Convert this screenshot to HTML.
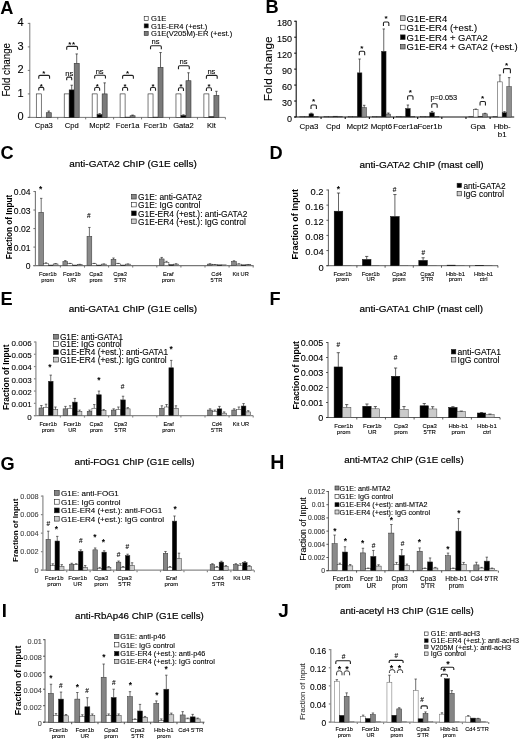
<!DOCTYPE html>
<html><head><meta charset="utf-8"><title>Figure</title>
<style>
html,body{margin:0;padding:0;background:#fff;}
svg{display:block;}
text{font-family:"Liberation Sans", Arial, sans-serif;}
</style></head>
<body>
<svg width="520" height="739" viewBox="0 0 520 739">
<rect x="0" y="0" width="520" height="739" fill="#fff"/>
<text x="0.30" y="13.60" font-size="18.2" font-weight="bold">A</text>
<line x1="29.80" y1="22.90" x2="29.80" y2="117.40" stroke="#555" stroke-width="0.8"/>
<line x1="27.80" y1="117.40" x2="225.40" y2="117.40" stroke="#555" stroke-width="0.8"/>
<line x1="27.80" y1="117.40" x2="29.80" y2="117.40" stroke="#555" stroke-width="0.8"/>
<text x="23.60" y="120.40" font-size="11.0" text-anchor="end" stroke="#000" stroke-width="0.1">0</text>
<line x1="27.80" y1="93.90" x2="29.80" y2="93.90" stroke="#555" stroke-width="0.8"/>
<text x="23.60" y="96.90" font-size="11.0" text-anchor="end" stroke="#000" stroke-width="0.1">1</text>
<line x1="27.80" y1="70.40" x2="29.80" y2="70.40" stroke="#555" stroke-width="0.8"/>
<text x="23.60" y="73.40" font-size="11.0" text-anchor="end" stroke="#000" stroke-width="0.1">2</text>
<line x1="27.80" y1="46.90" x2="29.80" y2="46.90" stroke="#555" stroke-width="0.8"/>
<text x="23.60" y="49.90" font-size="11.0" text-anchor="end" stroke="#000" stroke-width="0.1">3</text>
<line x1="27.80" y1="23.40" x2="29.80" y2="23.40" stroke="#555" stroke-width="0.8"/>
<text x="23.60" y="26.40" font-size="11.0" text-anchor="end" stroke="#000" stroke-width="0.1">4</text>
<line x1="57.74" y1="117.40" x2="57.74" y2="119.40" stroke="#555" stroke-width="0.8"/>
<line x1="85.68" y1="117.40" x2="85.68" y2="119.40" stroke="#555" stroke-width="0.8"/>
<line x1="113.62" y1="117.40" x2="113.62" y2="119.40" stroke="#555" stroke-width="0.8"/>
<line x1="141.56" y1="117.40" x2="141.56" y2="119.40" stroke="#555" stroke-width="0.8"/>
<line x1="169.50" y1="117.40" x2="169.50" y2="119.40" stroke="#555" stroke-width="0.8"/>
<line x1="197.44" y1="117.40" x2="197.44" y2="119.40" stroke="#555" stroke-width="0.8"/>
<line x1="225.38" y1="117.40" x2="225.38" y2="119.40" stroke="#555" stroke-width="0.8"/>
<text x="10.50" y="69.80" font-size="10.4" text-anchor="middle" transform="rotate(-90 10.50 69.80)" textLength="53.6" lengthAdjust="spacingAndGlyphs" stroke="#000" stroke-width="0.1">Fold change</text>
<rect x="36.27" y="93.90" width="5.00" height="23.50" fill="#fff" stroke="#222" stroke-width="0.6"/>
<rect x="41.27" y="117.40" width="5.00" height="0.00" fill="#000" stroke="#222" stroke-width="0.6"/>
<rect x="46.27" y="112.70" width="5.00" height="4.70" fill="#7a7a7a" stroke="#333" stroke-width="0.6"/>
<line x1="48.77" y1="112.70" x2="48.77" y2="111.06" stroke="#222" stroke-width="0.7"/>
<line x1="47.57" y1="111.06" x2="49.97" y2="111.06" stroke="#222" stroke-width="0.7"/>
<text x="43.77" y="127.60" font-size="7.6" text-anchor="middle" stroke="#000" stroke-width="0.1">Cpa3</text>
<rect x="64.21" y="93.90" width="5.00" height="23.50" fill="#fff" stroke="#222" stroke-width="0.6"/>
<rect x="69.21" y="89.91" width="5.00" height="27.50" fill="#000" stroke="#222" stroke-width="0.6"/>
<line x1="71.71" y1="89.91" x2="71.71" y2="85.21" stroke="#222" stroke-width="0.7"/>
<line x1="70.51" y1="85.21" x2="72.91" y2="85.21" stroke="#222" stroke-width="0.7"/>
<rect x="74.21" y="63.35" width="5.00" height="54.05" fill="#7a7a7a" stroke="#333" stroke-width="0.6"/>
<line x1="76.71" y1="63.35" x2="76.71" y2="53.95" stroke="#222" stroke-width="0.7"/>
<line x1="75.51" y1="53.95" x2="77.91" y2="53.95" stroke="#222" stroke-width="0.7"/>
<text x="71.71" y="127.60" font-size="7.6" text-anchor="middle" stroke="#000" stroke-width="0.1">Cpd</text>
<rect x="92.15" y="93.90" width="5.00" height="23.50" fill="#fff" stroke="#222" stroke-width="0.6"/>
<rect x="97.15" y="114.58" width="5.00" height="2.82" fill="#000" stroke="#222" stroke-width="0.6"/>
<line x1="99.65" y1="114.58" x2="99.65" y2="113.64" stroke="#222" stroke-width="0.7"/>
<line x1="98.45" y1="113.64" x2="100.85" y2="113.64" stroke="#222" stroke-width="0.7"/>
<rect x="102.15" y="93.90" width="5.00" height="23.50" fill="#7a7a7a" stroke="#333" stroke-width="0.6"/>
<line x1="104.65" y1="93.90" x2="104.65" y2="82.86" stroke="#222" stroke-width="0.7"/>
<line x1="103.45" y1="82.86" x2="105.85" y2="82.86" stroke="#222" stroke-width="0.7"/>
<text x="99.65" y="127.60" font-size="7.6" text-anchor="middle" stroke="#000" stroke-width="0.1">Mcpt2</text>
<rect x="120.09" y="93.90" width="5.00" height="23.50" fill="#fff" stroke="#222" stroke-width="0.6"/>
<rect x="125.09" y="117.17" width="5.00" height="0.23" fill="#000" stroke="#222" stroke-width="0.6"/>
<rect x="130.09" y="115.76" width="5.00" height="1.64" fill="#7a7a7a" stroke="#333" stroke-width="0.6"/>
<line x1="132.59" y1="115.76" x2="132.59" y2="115.05" stroke="#222" stroke-width="0.7"/>
<line x1="131.39" y1="115.05" x2="133.79" y2="115.05" stroke="#222" stroke-width="0.7"/>
<text x="127.59" y="127.60" font-size="7.6" text-anchor="middle" stroke="#000" stroke-width="0.1">Fcer1a</text>
<rect x="148.03" y="93.90" width="5.00" height="23.50" fill="#fff" stroke="#222" stroke-width="0.6"/>
<rect x="153.03" y="117.17" width="5.00" height="0.23" fill="#000" stroke="#222" stroke-width="0.6"/>
<rect x="158.03" y="67.34" width="5.00" height="50.06" fill="#7a7a7a" stroke="#333" stroke-width="0.6"/>
<line x1="160.53" y1="67.34" x2="160.53" y2="52.54" stroke="#222" stroke-width="0.7"/>
<line x1="159.33" y1="52.54" x2="161.73" y2="52.54" stroke="#222" stroke-width="0.7"/>
<text x="155.53" y="127.60" font-size="7.6" text-anchor="middle" stroke="#000" stroke-width="0.1">Fcer1b</text>
<rect x="175.97" y="93.90" width="5.00" height="23.50" fill="#fff" stroke="#222" stroke-width="0.6"/>
<rect x="180.97" y="115.52" width="5.00" height="1.88" fill="#000" stroke="#222" stroke-width="0.6"/>
<line x1="183.47" y1="115.52" x2="183.47" y2="114.82" stroke="#222" stroke-width="0.7"/>
<line x1="182.27" y1="114.82" x2="184.67" y2="114.82" stroke="#222" stroke-width="0.7"/>
<rect x="185.97" y="80.74" width="5.00" height="36.66" fill="#7a7a7a" stroke="#333" stroke-width="0.6"/>
<line x1="188.47" y1="80.74" x2="188.47" y2="72.75" stroke="#222" stroke-width="0.7"/>
<line x1="187.27" y1="72.75" x2="189.67" y2="72.75" stroke="#222" stroke-width="0.7"/>
<text x="183.47" y="127.60" font-size="7.6" text-anchor="middle" stroke="#000" stroke-width="0.1">Gata2</text>
<rect x="203.91" y="93.90" width="5.00" height="23.50" fill="#fff" stroke="#222" stroke-width="0.6"/>
<rect x="208.91" y="116.70" width="5.00" height="0.70" fill="#000" stroke="#222" stroke-width="0.6"/>
<rect x="213.91" y="95.55" width="5.00" height="21.86" fill="#7a7a7a" stroke="#333" stroke-width="0.6"/>
<line x1="216.41" y1="95.55" x2="216.41" y2="91.31" stroke="#222" stroke-width="0.7"/>
<line x1="215.21" y1="91.31" x2="217.61" y2="91.31" stroke="#222" stroke-width="0.7"/>
<text x="211.41" y="127.60" font-size="7.6" text-anchor="middle" stroke="#000" stroke-width="0.1">Kit</text>
<path d="M38.77,90.60 L38.77,88.60 Q38.77,87.40 39.97,87.40 L42.57,87.40 Q43.77,87.40 43.77,88.60 L43.77,90.60" stroke="#222" stroke-width="1.1" fill="none"/>
<text x="41.27" y="88.99" font-size="7.840000000000001" text-anchor="middle" font-weight="bold">*</text>
<path d="M38.77,78.80 L38.77,76.60 Q38.77,75.40 39.97,75.40 L48.37,75.40 Q49.57,75.40 49.57,76.60 L49.57,78.80" stroke="#222" stroke-width="1.1" fill="none"/>
<text x="43.77" y="76.29" font-size="7.840000000000001" text-anchor="middle" font-weight="bold">*</text>
<path d="M66.71,80.30 L66.71,78.30 Q66.71,77.10 67.91,77.10 L70.51,77.10 Q71.71,77.10 71.71,78.30 L71.71,80.30" stroke="#222" stroke-width="1.1" fill="none"/>
<text x="69.21" y="75.50" font-size="7.6" text-anchor="middle" stroke="#000" stroke-width="0.1">ns</text>
<path d="M66.71,49.80 L66.71,47.60 Q66.71,46.40 67.91,46.40 L76.31,46.40 Q77.51,46.40 77.51,47.60 L77.51,49.80" stroke="#222" stroke-width="1.1" fill="none"/>
<text x="69.81" y="47.49" font-size="7.840000000000001" text-anchor="middle" font-weight="bold">*</text>
<text x="73.61" y="47.49" font-size="7.840000000000001" text-anchor="middle" font-weight="bold">*</text>
<path d="M94.65,90.70 L94.65,88.70 Q94.65,87.50 95.85,87.50 L98.45,87.50 Q99.65,87.50 99.65,88.70 L99.65,90.70" stroke="#222" stroke-width="1.1" fill="none"/>
<text x="97.15" y="89.09" font-size="7.840000000000001" text-anchor="middle" font-weight="bold">*</text>
<path d="M94.65,78.60 L94.65,76.40 Q94.65,75.20 95.85,75.20 L104.25,75.20 Q105.45,75.20 105.45,76.40 L105.45,78.60" stroke="#222" stroke-width="1.1" fill="none"/>
<text x="99.65" y="73.60" font-size="7.6" text-anchor="middle" stroke="#000" stroke-width="0.1">ns</text>
<path d="M122.59,90.70 L122.59,88.70 Q122.59,87.50 123.79,87.50 L126.39,87.50 Q127.59,87.50 127.59,88.70 L127.59,90.70" stroke="#222" stroke-width="1.1" fill="none"/>
<text x="125.09" y="89.09" font-size="7.840000000000001" text-anchor="middle" font-weight="bold">*</text>
<path d="M122.59,78.80 L122.59,76.60 Q122.59,75.40 123.79,75.40 L132.19,75.40 Q133.39,75.40 133.39,76.60 L133.39,78.80" stroke="#222" stroke-width="1.1" fill="none"/>
<text x="127.59" y="76.29" font-size="7.840000000000001" text-anchor="middle" font-weight="bold">*</text>
<path d="M150.53,90.70 L150.53,88.70 Q150.53,87.50 151.73,87.50 L154.33,87.50 Q155.53,87.50 155.53,88.70 L155.53,90.70" stroke="#222" stroke-width="1.1" fill="none"/>
<text x="153.03" y="89.09" font-size="7.840000000000001" text-anchor="middle" font-weight="bold">*</text>
<path d="M150.53,49.20 L150.53,47.00 Q150.53,45.80 151.73,45.80 L160.13,45.80 Q161.33,45.80 161.33,47.00 L161.33,49.20" stroke="#222" stroke-width="1.1" fill="none"/>
<text x="155.53" y="44.20" font-size="7.6" text-anchor="middle" stroke="#000" stroke-width="0.1">ns</text>
<path d="M178.47,90.90 L178.47,88.90 Q178.47,87.70 179.67,87.70 L182.27,87.70 Q183.47,87.70 183.47,88.90 L183.47,90.90" stroke="#222" stroke-width="1.1" fill="none"/>
<text x="180.97" y="89.29" font-size="7.840000000000001" text-anchor="middle" font-weight="bold">*</text>
<path d="M178.47,69.20 L178.47,67.00 Q178.47,65.80 179.67,65.80 L188.07,65.80 Q189.27,65.80 189.27,67.00 L189.27,69.20" stroke="#222" stroke-width="1.1" fill="none"/>
<text x="183.47" y="64.20" font-size="7.6" text-anchor="middle" stroke="#000" stroke-width="0.1">ns</text>
<path d="M206.41,90.90 L206.41,88.90 Q206.41,87.70 207.61,87.70 L210.21,87.70 Q211.41,87.70 211.41,88.90 L211.41,90.90" stroke="#222" stroke-width="1.1" fill="none"/>
<text x="208.91" y="89.29" font-size="7.840000000000001" text-anchor="middle" font-weight="bold">*</text>
<path d="M206.41,78.80 L206.41,76.60 Q206.41,75.40 207.61,75.40 L216.01,75.40 Q217.21,75.40 217.21,76.60 L217.21,78.80" stroke="#222" stroke-width="1.1" fill="none"/>
<text x="211.41" y="73.80" font-size="7.6" text-anchor="middle" stroke="#000" stroke-width="0.1">ns</text>
<rect x="144.20" y="16.30" width="4.00" height="4.00" fill="#fff" stroke="#222" stroke-width="0.6"/>
<text x="151.00" y="21.24" font-size="7.6" stroke="#000" stroke-width="0.1">G1E</text>
<rect x="144.20" y="23.90" width="4.00" height="4.00" fill="#000" stroke="#222" stroke-width="0.6"/>
<text x="151.00" y="28.84" font-size="7.6" stroke="#000" stroke-width="0.1">G1E-ER4 (+est.)</text>
<rect x="144.20" y="31.40" width="4.00" height="4.00" fill="#7a7a7a" stroke="#222" stroke-width="0.6"/>
<text x="151.00" y="36.34" font-size="7.6" stroke="#000" stroke-width="0.1">G1E(V205M)-ER (+est.)</text>
<text x="265.60" y="13.30" font-size="18.2" font-weight="bold">B</text>
<line x1="296.20" y1="20.75" x2="296.20" y2="117.00" stroke="#111" stroke-width="1.1"/>
<line x1="294.20" y1="117.00" x2="514.20" y2="117.00" stroke="#111" stroke-width="1.1"/>
<line x1="294.20" y1="117.00" x2="296.20" y2="117.00" stroke="#111" stroke-width="1.1"/>
<text x="292.00" y="121.60" font-size="9.0" text-anchor="end" stroke="#000" stroke-width="0.1">0</text>
<line x1="294.20" y1="101.04" x2="296.20" y2="101.04" stroke="#111" stroke-width="1.1"/>
<text x="292.00" y="105.64" font-size="9.0" text-anchor="end" stroke="#000" stroke-width="0.1">30</text>
<line x1="294.20" y1="85.08" x2="296.20" y2="85.08" stroke="#111" stroke-width="1.1"/>
<text x="292.00" y="89.68" font-size="9.0" text-anchor="end" stroke="#000" stroke-width="0.1">60</text>
<line x1="294.20" y1="69.12" x2="296.20" y2="69.12" stroke="#111" stroke-width="1.1"/>
<text x="292.00" y="73.72" font-size="9.0" text-anchor="end" stroke="#000" stroke-width="0.1">90</text>
<line x1="294.20" y1="53.17" x2="296.20" y2="53.17" stroke="#111" stroke-width="1.1"/>
<text x="292.00" y="57.77" font-size="9.0" text-anchor="end" stroke="#000" stroke-width="0.1">120</text>
<line x1="294.20" y1="37.21" x2="296.20" y2="37.21" stroke="#111" stroke-width="1.1"/>
<text x="292.00" y="41.81" font-size="9.0" text-anchor="end" stroke="#000" stroke-width="0.1">150</text>
<line x1="294.20" y1="21.25" x2="296.20" y2="21.25" stroke="#111" stroke-width="1.1"/>
<text x="292.00" y="25.85" font-size="9.0" text-anchor="end" stroke="#000" stroke-width="0.1">180</text>
<line x1="321.07" y1="117.00" x2="321.07" y2="119.00" stroke="#111" stroke-width="1.1"/>
<line x1="345.23" y1="117.00" x2="345.23" y2="119.00" stroke="#111" stroke-width="1.1"/>
<line x1="369.38" y1="117.00" x2="369.38" y2="119.00" stroke="#111" stroke-width="1.1"/>
<line x1="393.52" y1="117.00" x2="393.52" y2="119.00" stroke="#111" stroke-width="1.1"/>
<line x1="417.68" y1="117.00" x2="417.68" y2="119.00" stroke="#111" stroke-width="1.1"/>
<line x1="441.82" y1="117.00" x2="441.82" y2="119.00" stroke="#111" stroke-width="1.1"/>
<line x1="465.98" y1="117.00" x2="465.98" y2="119.00" stroke="#111" stroke-width="1.1"/>
<line x1="490.12" y1="117.00" x2="490.12" y2="119.00" stroke="#111" stroke-width="1.1"/>
<text x="271.60" y="68.80" font-size="11.0" text-anchor="middle" transform="rotate(-90 271.60 68.80)" textLength="64.7" lengthAdjust="spacingAndGlyphs" stroke="#000" stroke-width="0.1">Fold change</text>
<rect x="299.80" y="116.57" width="4.60" height="0.43" fill="#c4c4c4" stroke="#333" stroke-width="0.5"/>
<rect x="304.40" y="116.68" width="4.60" height="0.32" fill="#fff" stroke="#333" stroke-width="0.5"/>
<rect x="309.00" y="113.81" width="4.60" height="3.19" fill="#000" stroke="#333" stroke-width="0.5"/>
<line x1="311.30" y1="113.81" x2="311.30" y2="113.17" stroke="#222" stroke-width="0.7"/>
<line x1="310.10" y1="113.17" x2="312.50" y2="113.17" stroke="#222" stroke-width="0.7"/>
<rect x="313.60" y="116.47" width="4.60" height="0.53" fill="#8e8e8e" stroke="#333" stroke-width="0.5"/>
<text x="309.00" y="128.70" font-size="7.9" text-anchor="middle" stroke="#000" stroke-width="0.1">Cpa3</text>
<rect x="323.95" y="116.57" width="4.60" height="0.43" fill="#c4c4c4" stroke="#333" stroke-width="0.5"/>
<rect x="328.55" y="116.47" width="4.60" height="0.53" fill="#fff" stroke="#333" stroke-width="0.5"/>
<rect x="333.15" y="116.20" width="4.60" height="0.80" fill="#000" stroke="#333" stroke-width="0.5"/>
<rect x="337.75" y="116.47" width="4.60" height="0.53" fill="#8e8e8e" stroke="#333" stroke-width="0.5"/>
<text x="333.15" y="128.70" font-size="7.9" text-anchor="middle" stroke="#000" stroke-width="0.1">Cpd</text>
<rect x="348.10" y="116.57" width="4.60" height="0.43" fill="#c4c4c4" stroke="#333" stroke-width="0.5"/>
<rect x="352.70" y="116.57" width="4.60" height="0.43" fill="#fff" stroke="#333" stroke-width="0.5"/>
<rect x="357.30" y="72.85" width="4.60" height="44.15" fill="#000" stroke="#333" stroke-width="0.5"/>
<line x1="359.60" y1="72.85" x2="359.60" y2="59.02" stroke="#222" stroke-width="0.7"/>
<line x1="358.40" y1="59.02" x2="360.80" y2="59.02" stroke="#222" stroke-width="0.7"/>
<rect x="361.90" y="107.69" width="4.60" height="9.31" fill="#8e8e8e" stroke="#333" stroke-width="0.5"/>
<line x1="364.20" y1="107.69" x2="364.20" y2="105.30" stroke="#222" stroke-width="0.7"/>
<line x1="363.00" y1="105.30" x2="365.40" y2="105.30" stroke="#222" stroke-width="0.7"/>
<text x="357.30" y="128.70" font-size="7.9" text-anchor="middle" stroke="#000" stroke-width="0.1">Mcpt2</text>
<rect x="372.25" y="116.57" width="4.60" height="0.43" fill="#c4c4c4" stroke="#333" stroke-width="0.5"/>
<rect x="376.85" y="116.57" width="4.60" height="0.43" fill="#fff" stroke="#333" stroke-width="0.5"/>
<rect x="381.45" y="51.30" width="4.60" height="65.70" fill="#000" stroke="#333" stroke-width="0.5"/>
<line x1="383.75" y1="51.30" x2="383.75" y2="28.96" stroke="#222" stroke-width="0.7"/>
<line x1="382.55" y1="28.96" x2="384.95" y2="28.96" stroke="#222" stroke-width="0.7"/>
<rect x="386.05" y="114.07" width="4.60" height="2.93" fill="#8e8e8e" stroke="#333" stroke-width="0.5"/>
<line x1="388.35" y1="114.07" x2="388.35" y2="113.01" stroke="#222" stroke-width="0.7"/>
<line x1="387.15" y1="113.01" x2="389.55" y2="113.01" stroke="#222" stroke-width="0.7"/>
<text x="381.45" y="128.70" font-size="7.9" text-anchor="middle" stroke="#000" stroke-width="0.1">Mcpt6</text>
<rect x="396.40" y="116.57" width="4.60" height="0.43" fill="#c4c4c4" stroke="#333" stroke-width="0.5"/>
<rect x="401.00" y="116.57" width="4.60" height="0.43" fill="#fff" stroke="#333" stroke-width="0.5"/>
<rect x="405.60" y="108.49" width="4.60" height="8.51" fill="#000" stroke="#333" stroke-width="0.5"/>
<line x1="407.90" y1="108.49" x2="407.90" y2="105.03" stroke="#222" stroke-width="0.7"/>
<line x1="406.70" y1="105.03" x2="409.10" y2="105.03" stroke="#222" stroke-width="0.7"/>
<rect x="410.20" y="116.47" width="4.60" height="0.53" fill="#8e8e8e" stroke="#333" stroke-width="0.5"/>
<text x="405.60" y="128.70" font-size="7.9" text-anchor="middle" stroke="#000" stroke-width="0.1">Fcer1a</text>
<rect x="420.55" y="116.57" width="4.60" height="0.43" fill="#c4c4c4" stroke="#333" stroke-width="0.5"/>
<rect x="425.15" y="116.57" width="4.60" height="0.43" fill="#fff" stroke="#333" stroke-width="0.5"/>
<rect x="429.75" y="112.74" width="4.60" height="4.26" fill="#000" stroke="#333" stroke-width="0.5"/>
<line x1="432.05" y1="112.74" x2="432.05" y2="111.41" stroke="#222" stroke-width="0.7"/>
<line x1="430.85" y1="111.41" x2="433.25" y2="111.41" stroke="#222" stroke-width="0.7"/>
<rect x="434.35" y="116.47" width="4.60" height="0.53" fill="#8e8e8e" stroke="#333" stroke-width="0.5"/>
<text x="429.75" y="128.70" font-size="7.9" text-anchor="middle" stroke="#000" stroke-width="0.1">Fcer1b</text>
<rect x="468.85" y="116.47" width="4.60" height="0.53" fill="#c4c4c4" stroke="#333" stroke-width="0.5"/>
<rect x="473.45" y="109.55" width="4.60" height="7.45" fill="#fff" stroke="#333" stroke-width="0.5"/>
<line x1="475.75" y1="109.55" x2="475.75" y2="109.02" stroke="#222" stroke-width="0.7"/>
<line x1="474.55" y1="109.02" x2="476.95" y2="109.02" stroke="#222" stroke-width="0.7"/>
<rect x="478.05" y="116.47" width="4.60" height="0.53" fill="#000" stroke="#333" stroke-width="0.5"/>
<rect x="482.65" y="113.81" width="4.60" height="3.19" fill="#8e8e8e" stroke="#333" stroke-width="0.5"/>
<line x1="484.95" y1="113.81" x2="484.95" y2="113.28" stroke="#222" stroke-width="0.7"/>
<line x1="483.75" y1="113.28" x2="486.15" y2="113.28" stroke="#222" stroke-width="0.7"/>
<text x="478.05" y="128.70" font-size="7.9" text-anchor="middle" stroke="#000" stroke-width="0.1">Gpa</text>
<rect x="493.00" y="116.47" width="4.60" height="0.53" fill="#c4c4c4" stroke="#333" stroke-width="0.5"/>
<rect x="497.60" y="81.89" width="4.60" height="35.11" fill="#fff" stroke="#333" stroke-width="0.5"/>
<line x1="499.90" y1="81.89" x2="499.90" y2="74.98" stroke="#222" stroke-width="0.7"/>
<line x1="498.70" y1="74.98" x2="501.10" y2="74.98" stroke="#222" stroke-width="0.7"/>
<rect x="502.20" y="112.74" width="4.60" height="4.26" fill="#000" stroke="#333" stroke-width="0.5"/>
<line x1="504.50" y1="112.74" x2="504.50" y2="111.68" stroke="#222" stroke-width="0.7"/>
<line x1="503.30" y1="111.68" x2="505.70" y2="111.68" stroke="#222" stroke-width="0.7"/>
<rect x="506.80" y="86.68" width="4.60" height="30.32" fill="#8e8e8e" stroke="#333" stroke-width="0.5"/>
<line x1="509.10" y1="86.68" x2="509.10" y2="77.64" stroke="#222" stroke-width="0.7"/>
<line x1="507.90" y1="77.64" x2="510.30" y2="77.64" stroke="#222" stroke-width="0.7"/>
<text x="502.20" y="128.70" font-size="7.9" text-anchor="middle" stroke="#000" stroke-width="0.1">Hbb-</text>
<text x="502.20" y="136.60" font-size="7.9" text-anchor="middle" stroke="#000" stroke-width="0.1">b1</text>
<path d="M311.00,109.00 L311.00,106.20 Q311.00,105.00 312.20,105.00 L315.20,105.00 Q316.40,105.00 316.40,106.20 L316.40,109.00" stroke="#222" stroke-width="1.1" fill="none"/>
<text x="313.60" y="104.32" font-size="8.064000000000002" text-anchor="middle" font-weight="bold">*</text>
<path d="M359.30,55.30 L359.30,52.50 Q359.30,51.30 360.50,51.30 L363.50,51.30 Q364.70,51.30 364.70,52.50 L364.70,55.30" stroke="#222" stroke-width="1.1" fill="none"/>
<text x="361.90" y="50.62" font-size="8.064000000000002" text-anchor="middle" font-weight="bold">*</text>
<path d="M383.45,26.00 L383.45,23.20 Q383.45,22.00 384.65,22.00 L387.65,22.00 Q388.85,22.00 388.85,23.20 L388.85,26.00" stroke="#222" stroke-width="1.1" fill="none"/>
<text x="386.05" y="21.32" font-size="8.064000000000002" text-anchor="middle" font-weight="bold">*</text>
<path d="M407.60,99.80 L407.60,97.00 Q407.60,95.80 408.80,95.80 L411.80,95.80 Q413.00,95.80 413.00,97.00 L413.00,99.80" stroke="#222" stroke-width="1.1" fill="none"/>
<text x="410.20" y="95.12" font-size="8.064000000000002" text-anchor="middle" font-weight="bold">*</text>
<path d="M431.75,107.80 L431.75,105.00 Q431.75,103.80 432.95,103.80 L435.95,103.80 Q437.15,103.80 437.15,105.00 L437.15,107.80" stroke="#222" stroke-width="1.1" fill="none"/>
<path d="M480.05,105.50 L480.05,102.70 Q480.05,101.50 481.25,101.50 L484.25,101.50 Q485.45,101.50 485.45,102.70 L485.45,105.50" stroke="#222" stroke-width="1.1" fill="none"/>
<text x="482.65" y="100.82" font-size="8.064000000000002" text-anchor="middle" font-weight="bold">*</text>
<text x="443.80" y="99.60" font-size="7.3" text-anchor="middle" stroke="#000" stroke-width="0.1">p=0.053</text>
<path d="M503.50,73.20 L503.50,69.80 Q503.50,68.60 504.70,68.60 L509.20,68.60 Q510.40,68.60 510.40,69.80 L510.40,73.20" stroke="#222" stroke-width="1.1" fill="none"/>
<text x="506.60" y="68.32" font-size="8.064000000000002" text-anchor="middle" font-weight="bold">*</text>
<rect x="400.50" y="15.80" width="4.60" height="4.60" fill="#c4c4c4" stroke="#222" stroke-width="0.6"/>
<text x="406.60" y="21.72" font-size="9.5" stroke="#000" stroke-width="0.1">G1E-ER4</text>
<rect x="400.50" y="25.20" width="4.60" height="4.60" fill="#fff" stroke="#222" stroke-width="0.6"/>
<text x="406.60" y="31.12" font-size="9.5" stroke="#000" stroke-width="0.1">G1E-ER4 (+est.)</text>
<rect x="400.50" y="34.90" width="4.60" height="4.60" fill="#000" stroke="#222" stroke-width="0.6"/>
<text x="406.60" y="40.82" font-size="9.5" stroke="#000" stroke-width="0.1">G1E-ER4 + GATA2</text>
<rect x="400.50" y="44.40" width="4.60" height="4.60" fill="#8e8e8e" stroke="#222" stroke-width="0.6"/>
<text x="406.60" y="50.32" font-size="9.5" stroke="#000" stroke-width="0.1">G1E-ER4 + GATA2 (+est.)</text>
<text x="0.60" y="158.70" font-size="18.2" font-weight="bold">C</text>
<text x="133.00" y="167.30" font-size="9.9" text-anchor="middle" textLength="127.5" lengthAdjust="spacingAndGlyphs" stroke="#000" stroke-width="0.2">anti-GATA2 ChIP (G1E cells)</text>
<line x1="35.40" y1="191.00" x2="35.40" y2="265.60" stroke="#777" stroke-width="1.1"/>
<line x1="33.40" y1="265.60" x2="253.50" y2="265.60" stroke="#777" stroke-width="1.1"/>
<line x1="33.40" y1="265.60" x2="35.40" y2="265.60" stroke="#777" stroke-width="1.1"/>
<text x="30.60" y="269.30" font-size="8.6" text-anchor="end" stroke="#000" stroke-width="0.1">0</text>
<line x1="33.40" y1="247.08" x2="35.40" y2="247.08" stroke="#777" stroke-width="1.1"/>
<text x="30.60" y="250.78" font-size="8.6" text-anchor="end" stroke="#000" stroke-width="0.1">0.01</text>
<line x1="33.40" y1="228.55" x2="35.40" y2="228.55" stroke="#777" stroke-width="1.1"/>
<text x="30.60" y="232.25" font-size="8.6" text-anchor="end" stroke="#000" stroke-width="0.1">0.02</text>
<line x1="33.40" y1="210.03" x2="35.40" y2="210.03" stroke="#777" stroke-width="1.1"/>
<text x="30.60" y="213.72" font-size="8.6" text-anchor="end" stroke="#000" stroke-width="0.1">0.03</text>
<line x1="33.40" y1="191.50" x2="35.40" y2="191.50" stroke="#777" stroke-width="1.1"/>
<text x="30.60" y="195.20" font-size="8.6" text-anchor="end" stroke="#000" stroke-width="0.1">0.04</text>
<line x1="60.40" y1="265.60" x2="60.40" y2="267.60" stroke="#777" stroke-width="1.1"/>
<line x1="84.50" y1="265.60" x2="84.50" y2="267.60" stroke="#777" stroke-width="1.1"/>
<line x1="108.60" y1="265.60" x2="108.60" y2="267.60" stroke="#777" stroke-width="1.1"/>
<line x1="132.70" y1="265.60" x2="132.70" y2="267.60" stroke="#777" stroke-width="1.1"/>
<line x1="156.80" y1="265.60" x2="156.80" y2="267.60" stroke="#777" stroke-width="1.1"/>
<line x1="180.90" y1="265.60" x2="180.90" y2="267.60" stroke="#777" stroke-width="1.1"/>
<line x1="205.00" y1="265.60" x2="205.00" y2="267.60" stroke="#777" stroke-width="1.1"/>
<line x1="229.10" y1="265.60" x2="229.10" y2="267.60" stroke="#777" stroke-width="1.1"/>
<line x1="253.20" y1="265.60" x2="253.20" y2="267.60" stroke="#777" stroke-width="1.1"/>
<text x="11.60" y="227.00" font-size="8.2" text-anchor="middle" font-weight="bold" transform="rotate(-90 11.60 227.00)" textLength="64.3" lengthAdjust="spacingAndGlyphs">Fraction of Input</text>
<rect x="38.80" y="212.25" width="4.80" height="53.35" fill="#8a8a8a" stroke="#333" stroke-width="0.5"/>
<line x1="41.20" y1="212.25" x2="41.20" y2="198.35" stroke="#333" stroke-width="0.7"/>
<line x1="40.00" y1="198.35" x2="42.40" y2="198.35" stroke="#333" stroke-width="0.7"/>
<rect x="43.60" y="263.38" width="4.80" height="2.22" fill="#fff" stroke="#333" stroke-width="0.5"/>
<line x1="46.00" y1="263.38" x2="46.00" y2="262.82" stroke="#333" stroke-width="0.7"/>
<line x1="44.80" y1="262.82" x2="47.20" y2="262.82" stroke="#333" stroke-width="0.7"/>
<rect x="48.40" y="265.04" width="4.80" height="0.56" fill="#000" stroke="#333" stroke-width="0.5"/>
<rect x="53.20" y="263.93" width="4.80" height="1.67" fill="#cdcdcd" stroke="#333" stroke-width="0.5"/>
<line x1="55.60" y1="263.93" x2="55.60" y2="263.56" stroke="#333" stroke-width="0.7"/>
<line x1="54.40" y1="263.56" x2="56.80" y2="263.56" stroke="#333" stroke-width="0.7"/>
<rect x="62.90" y="261.52" width="4.80" height="4.08" fill="#8a8a8a" stroke="#333" stroke-width="0.5"/>
<line x1="65.30" y1="261.52" x2="65.30" y2="260.60" stroke="#333" stroke-width="0.7"/>
<line x1="64.10" y1="260.60" x2="66.50" y2="260.60" stroke="#333" stroke-width="0.7"/>
<rect x="67.70" y="263.75" width="4.80" height="1.85" fill="#fff" stroke="#333" stroke-width="0.5"/>
<line x1="70.10" y1="263.75" x2="70.10" y2="263.38" stroke="#333" stroke-width="0.7"/>
<line x1="68.90" y1="263.38" x2="71.30" y2="263.38" stroke="#333" stroke-width="0.7"/>
<rect x="72.50" y="265.04" width="4.80" height="0.56" fill="#000" stroke="#333" stroke-width="0.5"/>
<rect x="77.30" y="264.49" width="4.80" height="1.11" fill="#cdcdcd" stroke="#333" stroke-width="0.5"/>
<line x1="79.70" y1="264.49" x2="79.70" y2="264.30" stroke="#333" stroke-width="0.7"/>
<line x1="78.50" y1="264.30" x2="80.90" y2="264.30" stroke="#333" stroke-width="0.7"/>
<rect x="87.00" y="236.33" width="4.80" height="29.27" fill="#8a8a8a" stroke="#333" stroke-width="0.5"/>
<line x1="89.40" y1="236.33" x2="89.40" y2="227.44" stroke="#333" stroke-width="0.7"/>
<line x1="88.20" y1="227.44" x2="90.60" y2="227.44" stroke="#333" stroke-width="0.7"/>
<rect x="91.80" y="263.75" width="4.80" height="1.85" fill="#fff" stroke="#333" stroke-width="0.5"/>
<line x1="94.20" y1="263.75" x2="94.20" y2="263.38" stroke="#333" stroke-width="0.7"/>
<line x1="93.00" y1="263.38" x2="95.40" y2="263.38" stroke="#333" stroke-width="0.7"/>
<rect x="96.60" y="265.04" width="4.80" height="0.56" fill="#000" stroke="#333" stroke-width="0.5"/>
<rect x="101.40" y="264.12" width="4.80" height="1.48" fill="#cdcdcd" stroke="#333" stroke-width="0.5"/>
<line x1="103.80" y1="264.12" x2="103.80" y2="263.93" stroke="#333" stroke-width="0.7"/>
<line x1="102.60" y1="263.93" x2="105.00" y2="263.93" stroke="#333" stroke-width="0.7"/>
<rect x="111.10" y="259.30" width="4.80" height="6.30" fill="#8a8a8a" stroke="#333" stroke-width="0.5"/>
<line x1="113.50" y1="259.30" x2="113.50" y2="258.00" stroke="#333" stroke-width="0.7"/>
<line x1="112.30" y1="258.00" x2="114.70" y2="258.00" stroke="#333" stroke-width="0.7"/>
<rect x="115.90" y="263.75" width="4.80" height="1.85" fill="#fff" stroke="#333" stroke-width="0.5"/>
<line x1="118.30" y1="263.75" x2="118.30" y2="263.38" stroke="#333" stroke-width="0.7"/>
<line x1="117.10" y1="263.38" x2="119.50" y2="263.38" stroke="#333" stroke-width="0.7"/>
<rect x="120.70" y="265.04" width="4.80" height="0.56" fill="#000" stroke="#333" stroke-width="0.5"/>
<rect x="125.50" y="264.12" width="4.80" height="1.48" fill="#cdcdcd" stroke="#333" stroke-width="0.5"/>
<line x1="127.90" y1="264.12" x2="127.90" y2="263.93" stroke="#333" stroke-width="0.7"/>
<line x1="126.70" y1="263.93" x2="129.10" y2="263.93" stroke="#333" stroke-width="0.7"/>
<rect x="159.30" y="258.93" width="4.80" height="6.67" fill="#8a8a8a" stroke="#333" stroke-width="0.5"/>
<line x1="161.70" y1="258.93" x2="161.70" y2="257.45" stroke="#333" stroke-width="0.7"/>
<line x1="160.50" y1="257.45" x2="162.90" y2="257.45" stroke="#333" stroke-width="0.7"/>
<rect x="164.10" y="262.27" width="4.80" height="3.33" fill="#fff" stroke="#333" stroke-width="0.5"/>
<line x1="166.50" y1="262.27" x2="166.50" y2="261.34" stroke="#333" stroke-width="0.7"/>
<line x1="165.30" y1="261.34" x2="167.70" y2="261.34" stroke="#333" stroke-width="0.7"/>
<rect x="168.90" y="264.67" width="4.80" height="0.93" fill="#000" stroke="#333" stroke-width="0.5"/>
<rect x="173.70" y="264.12" width="4.80" height="1.48" fill="#cdcdcd" stroke="#333" stroke-width="0.5"/>
<line x1="176.10" y1="264.12" x2="176.10" y2="263.75" stroke="#333" stroke-width="0.7"/>
<line x1="174.90" y1="263.75" x2="177.30" y2="263.75" stroke="#333" stroke-width="0.7"/>
<rect x="207.50" y="264.12" width="4.80" height="1.48" fill="#8a8a8a" stroke="#333" stroke-width="0.5"/>
<line x1="209.90" y1="264.12" x2="209.90" y2="263.75" stroke="#333" stroke-width="0.7"/>
<line x1="208.70" y1="263.75" x2="211.10" y2="263.75" stroke="#333" stroke-width="0.7"/>
<rect x="212.30" y="264.67" width="4.80" height="0.93" fill="#fff" stroke="#333" stroke-width="0.5"/>
<line x1="214.70" y1="264.67" x2="214.70" y2="264.49" stroke="#333" stroke-width="0.7"/>
<line x1="213.50" y1="264.49" x2="215.90" y2="264.49" stroke="#333" stroke-width="0.7"/>
<rect x="217.10" y="264.86" width="4.80" height="0.74" fill="#000" stroke="#333" stroke-width="0.5"/>
<rect x="221.90" y="264.86" width="4.80" height="0.74" fill="#cdcdcd" stroke="#333" stroke-width="0.5"/>
<rect x="231.60" y="261.52" width="4.80" height="4.08" fill="#8a8a8a" stroke="#333" stroke-width="0.5"/>
<line x1="234.00" y1="261.52" x2="234.00" y2="260.78" stroke="#333" stroke-width="0.7"/>
<line x1="232.80" y1="260.78" x2="235.20" y2="260.78" stroke="#333" stroke-width="0.7"/>
<rect x="236.40" y="264.12" width="4.80" height="1.48" fill="#fff" stroke="#333" stroke-width="0.5"/>
<line x1="238.80" y1="264.12" x2="238.80" y2="263.75" stroke="#333" stroke-width="0.7"/>
<line x1="237.60" y1="263.75" x2="240.00" y2="263.75" stroke="#333" stroke-width="0.7"/>
<rect x="241.20" y="264.86" width="4.80" height="0.74" fill="#000" stroke="#333" stroke-width="0.5"/>
<rect x="246.00" y="264.67" width="4.80" height="0.93" fill="#cdcdcd" stroke="#333" stroke-width="0.5"/>
<line x1="248.40" y1="264.67" x2="248.40" y2="264.49" stroke="#333" stroke-width="0.7"/>
<line x1="247.20" y1="264.49" x2="249.60" y2="264.49" stroke="#333" stroke-width="0.7"/>
<text x="47.80" y="276.20" font-size="5.7" text-anchor="middle" stroke="#000" stroke-width="0.1">Fcer1b</text>
<text x="47.80" y="281.80" font-size="5.7" text-anchor="middle" stroke="#000" stroke-width="0.1">prom</text>
<text x="71.90" y="276.20" font-size="5.7" text-anchor="middle" stroke="#000" stroke-width="0.1">Fcer1b</text>
<text x="71.90" y="281.80" font-size="5.7" text-anchor="middle" stroke="#000" stroke-width="0.1">UR</text>
<text x="96.00" y="276.20" font-size="5.7" text-anchor="middle" stroke="#000" stroke-width="0.1">Cpa3</text>
<text x="96.00" y="281.80" font-size="5.7" text-anchor="middle" stroke="#000" stroke-width="0.1">prom</text>
<text x="120.10" y="276.20" font-size="5.7" text-anchor="middle" stroke="#000" stroke-width="0.1">Cpa3</text>
<text x="120.10" y="281.80" font-size="5.7" text-anchor="middle" stroke="#000" stroke-width="0.1">5'TR</text>
<text x="168.30" y="276.20" font-size="5.7" text-anchor="middle" stroke="#000" stroke-width="0.1">Eraf</text>
<text x="168.30" y="281.80" font-size="5.7" text-anchor="middle" stroke="#000" stroke-width="0.1">prom</text>
<text x="216.50" y="276.20" font-size="5.7" text-anchor="middle" stroke="#000" stroke-width="0.1">Cd4</text>
<text x="216.50" y="281.80" font-size="5.7" text-anchor="middle" stroke="#000" stroke-width="0.1">5'TR</text>
<text x="240.60" y="276.20" font-size="5.7" text-anchor="middle" stroke="#000" stroke-width="0.1">Kit UR</text>
<text x="40.60" y="192.30" font-size="8.4" text-anchor="middle" font-weight="bold">*</text>
<text x="88.80" y="218.00" font-size="6.5" text-anchor="middle" stroke="#000" stroke-width="0.1">#</text>
<rect x="131.60" y="194.40" width="4.60" height="4.60" fill="#8a8a8a" stroke="#222" stroke-width="0.6"/>
<text x="138.00" y="199.92" font-size="8.4" stroke="#000" stroke-width="0.1">G1E: anti-GATA2</text>
<rect x="131.60" y="202.30" width="4.60" height="4.60" fill="#fff" stroke="#222" stroke-width="0.6"/>
<text x="138.00" y="207.82" font-size="8.4" stroke="#000" stroke-width="0.1">G1E: IgG control</text>
<rect x="131.60" y="211.00" width="4.60" height="4.60" fill="#000" stroke="#222" stroke-width="0.6"/>
<text x="138.00" y="216.52" font-size="8.4" stroke="#000" stroke-width="0.1">G1E-ER4 (+est.): anti-GATA2</text>
<rect x="131.60" y="219.00" width="4.60" height="4.60" fill="#cdcdcd" stroke="#222" stroke-width="0.6"/>
<text x="138.00" y="224.52" font-size="8.4" stroke="#000" stroke-width="0.1">G1E-ER4 (+est.): IgG control</text>
<text x="269.40" y="159.30" font-size="18.2" font-weight="bold">D</text>
<text x="421.60" y="167.70" font-size="9.9" text-anchor="middle" textLength="124.2" lengthAdjust="spacingAndGlyphs" stroke="#000" stroke-width="0.2">anti-GATA2 ChIP (mast cell)</text>
<line x1="328.40" y1="189.50" x2="328.40" y2="265.70" stroke="#333" stroke-width="0.8"/>
<line x1="326.40" y1="265.70" x2="498.00" y2="265.70" stroke="#333" stroke-width="0.8"/>
<line x1="326.40" y1="265.70" x2="328.40" y2="265.70" stroke="#333" stroke-width="0.8"/>
<text x="323.60" y="270.50" font-size="9.4" text-anchor="end" stroke="#000" stroke-width="0.1">0</text>
<line x1="326.40" y1="250.56" x2="328.40" y2="250.56" stroke="#333" stroke-width="0.8"/>
<text x="323.60" y="255.36" font-size="9.4" text-anchor="end" stroke="#000" stroke-width="0.1">0.04</text>
<line x1="326.40" y1="235.42" x2="328.40" y2="235.42" stroke="#333" stroke-width="0.8"/>
<text x="323.60" y="240.22" font-size="9.4" text-anchor="end" stroke="#000" stroke-width="0.1">0.08</text>
<line x1="326.40" y1="220.28" x2="328.40" y2="220.28" stroke="#333" stroke-width="0.8"/>
<text x="323.60" y="225.08" font-size="9.4" text-anchor="end" stroke="#000" stroke-width="0.1">0.12</text>
<line x1="326.40" y1="205.14" x2="328.40" y2="205.14" stroke="#333" stroke-width="0.8"/>
<text x="323.60" y="209.94" font-size="9.4" text-anchor="end" stroke="#000" stroke-width="0.1">0.16</text>
<line x1="326.40" y1="190.00" x2="328.40" y2="190.00" stroke="#333" stroke-width="0.8"/>
<text x="323.60" y="194.80" font-size="9.4" text-anchor="end" stroke="#000" stroke-width="0.1">0.2</text>
<line x1="356.90" y1="265.70" x2="356.90" y2="267.70" stroke="#333" stroke-width="0.8"/>
<line x1="385.10" y1="265.70" x2="385.10" y2="267.70" stroke="#333" stroke-width="0.8"/>
<line x1="413.30" y1="265.70" x2="413.30" y2="267.70" stroke="#333" stroke-width="0.8"/>
<line x1="441.50" y1="265.70" x2="441.50" y2="267.70" stroke="#333" stroke-width="0.8"/>
<line x1="469.70" y1="265.70" x2="469.70" y2="267.70" stroke="#333" stroke-width="0.8"/>
<line x1="497.90" y1="265.70" x2="497.90" y2="267.70" stroke="#333" stroke-width="0.8"/>
<text x="298.20" y="224.20" font-size="9.0" text-anchor="middle" font-weight="bold" transform="rotate(-90 298.20 224.20)" textLength="70.5" lengthAdjust="spacingAndGlyphs">Fraction of Input</text>
<rect x="334.20" y="211.20" width="8.60" height="54.50" fill="#000" stroke="#111" stroke-width="0.5"/>
<line x1="338.50" y1="211.20" x2="338.50" y2="193.03" stroke="#222" stroke-width="0.7"/>
<line x1="336.90" y1="193.03" x2="340.10" y2="193.03" stroke="#222" stroke-width="0.7"/>
<rect x="342.80" y="265.32" width="8.60" height="0.38" fill="#cfcfcf" stroke="#444" stroke-width="0.5"/>
<rect x="362.40" y="259.45" width="8.60" height="6.25" fill="#000" stroke="#111" stroke-width="0.5"/>
<line x1="366.70" y1="259.45" x2="366.70" y2="256.43" stroke="#222" stroke-width="0.7"/>
<line x1="365.10" y1="256.43" x2="368.30" y2="256.43" stroke="#222" stroke-width="0.7"/>
<rect x="371.00" y="265.40" width="8.60" height="0.30" fill="#cfcfcf" stroke="#444" stroke-width="0.5"/>
<rect x="390.60" y="216.50" width="8.60" height="49.20" fill="#000" stroke="#111" stroke-width="0.5"/>
<line x1="394.90" y1="216.50" x2="394.90" y2="194.54" stroke="#222" stroke-width="0.7"/>
<line x1="393.30" y1="194.54" x2="396.50" y2="194.54" stroke="#222" stroke-width="0.7"/>
<rect x="399.20" y="265.32" width="8.60" height="0.38" fill="#cfcfcf" stroke="#444" stroke-width="0.5"/>
<rect x="418.80" y="260.40" width="8.60" height="5.30" fill="#000" stroke="#111" stroke-width="0.5"/>
<line x1="423.10" y1="260.40" x2="423.10" y2="257.75" stroke="#222" stroke-width="0.7"/>
<line x1="421.50" y1="257.75" x2="424.70" y2="257.75" stroke="#222" stroke-width="0.7"/>
<rect x="427.40" y="265.32" width="8.60" height="0.38" fill="#cfcfcf" stroke="#444" stroke-width="0.5"/>
<rect x="447.00" y="265.13" width="8.60" height="0.57" fill="#000" stroke="#111" stroke-width="0.5"/>
<rect x="455.60" y="265.47" width="8.60" height="0.23" fill="#cfcfcf" stroke="#444" stroke-width="0.5"/>
<rect x="475.20" y="265.25" width="8.60" height="0.45" fill="#000" stroke="#111" stroke-width="0.5"/>
<rect x="483.80" y="265.55" width="8.60" height="0.15" fill="#cfcfcf" stroke="#444" stroke-width="0.5"/>
<text x="342.60" y="275.60" font-size="5.8" text-anchor="middle" stroke="#000" stroke-width="0.1">Fcer1b</text>
<text x="342.60" y="281.20" font-size="5.8" text-anchor="middle" stroke="#000" stroke-width="0.1">prom</text>
<text x="370.80" y="275.60" font-size="5.8" text-anchor="middle" stroke="#000" stroke-width="0.1">Fcer1b</text>
<text x="370.80" y="281.20" font-size="5.8" text-anchor="middle" stroke="#000" stroke-width="0.1">UR</text>
<text x="399.00" y="275.60" font-size="5.8" text-anchor="middle" stroke="#000" stroke-width="0.1">Cpa3</text>
<text x="399.00" y="281.20" font-size="5.8" text-anchor="middle" stroke="#000" stroke-width="0.1">prom</text>
<text x="427.20" y="275.60" font-size="5.8" text-anchor="middle" stroke="#000" stroke-width="0.1">Cpa3</text>
<text x="427.20" y="281.20" font-size="5.8" text-anchor="middle" stroke="#000" stroke-width="0.1">5'TR</text>
<text x="455.40" y="275.60" font-size="5.8" text-anchor="middle" stroke="#000" stroke-width="0.1">Hbb-b1</text>
<text x="455.40" y="281.20" font-size="5.8" text-anchor="middle" stroke="#000" stroke-width="0.1">prom</text>
<text x="483.60" y="275.60" font-size="5.8" text-anchor="middle" stroke="#000" stroke-width="0.1">Hbb-b1</text>
<text x="483.60" y="281.20" font-size="5.8" text-anchor="middle" stroke="#000" stroke-width="0.1">ctrl</text>
<text x="338.30" y="191.50" font-size="8.4" text-anchor="middle" font-weight="bold">*</text>
<text x="394.50" y="191.60" font-size="6.5" text-anchor="middle" stroke="#000" stroke-width="0.1">#</text>
<text x="423.30" y="254.60" font-size="6.5" text-anchor="middle" stroke="#000" stroke-width="0.1">#</text>
<rect x="457.10" y="183.25" width="4.30" height="4.30" fill="#000" stroke="#222" stroke-width="0.6"/>
<text x="463.40" y="188.59" font-size="8.3" stroke="#000" stroke-width="0.1">anti-GATA2</text>
<rect x="457.10" y="191.55" width="4.30" height="4.30" fill="#cfcfcf" stroke="#222" stroke-width="0.6"/>
<text x="463.40" y="196.89" font-size="8.3" stroke="#000" stroke-width="0.1">IgG control</text>
<text x="0.60" y="305.00" font-size="18.2" font-weight="bold">E</text>
<text x="132.90" y="312.30" font-size="9.9" text-anchor="middle" textLength="128.3" lengthAdjust="spacingAndGlyphs" stroke="#000" stroke-width="0.2">anti-GATA1 ChIP (G1E cells)</text>
<line x1="35.90" y1="341.50" x2="35.90" y2="415.60" stroke="#8a8a8a" stroke-width="1.2"/>
<line x1="33.90" y1="415.60" x2="253.00" y2="415.60" stroke="#8a8a8a" stroke-width="1.2"/>
<line x1="33.90" y1="415.60" x2="35.90" y2="415.60" stroke="#8a8a8a" stroke-width="1.2"/>
<text x="31.60" y="419.50" font-size="8.0" text-anchor="end" stroke="#000" stroke-width="0.1">0</text>
<line x1="33.90" y1="403.33" x2="35.90" y2="403.33" stroke="#8a8a8a" stroke-width="1.2"/>
<text x="31.60" y="407.23" font-size="8.0" text-anchor="end" stroke="#000" stroke-width="0.1">0.001</text>
<line x1="33.90" y1="391.07" x2="35.90" y2="391.07" stroke="#8a8a8a" stroke-width="1.2"/>
<text x="31.60" y="394.97" font-size="8.0" text-anchor="end" stroke="#000" stroke-width="0.1">0.002</text>
<line x1="33.90" y1="378.80" x2="35.90" y2="378.80" stroke="#8a8a8a" stroke-width="1.2"/>
<text x="31.60" y="382.70" font-size="8.0" text-anchor="end" stroke="#000" stroke-width="0.1">0.003</text>
<line x1="33.90" y1="366.53" x2="35.90" y2="366.53" stroke="#8a8a8a" stroke-width="1.2"/>
<text x="31.60" y="370.43" font-size="8.0" text-anchor="end" stroke="#000" stroke-width="0.1">0.004</text>
<line x1="33.90" y1="354.27" x2="35.90" y2="354.27" stroke="#8a8a8a" stroke-width="1.2"/>
<text x="31.60" y="358.17" font-size="8.0" text-anchor="end" stroke="#000" stroke-width="0.1">0.005</text>
<line x1="33.90" y1="342.00" x2="35.90" y2="342.00" stroke="#8a8a8a" stroke-width="1.2"/>
<text x="31.60" y="345.90" font-size="8.0" text-anchor="end" stroke="#000" stroke-width="0.1">0.006</text>
<line x1="60.40" y1="415.60" x2="60.40" y2="417.60" stroke="#8a8a8a" stroke-width="1.2"/>
<line x1="84.50" y1="415.60" x2="84.50" y2="417.60" stroke="#8a8a8a" stroke-width="1.2"/>
<line x1="108.60" y1="415.60" x2="108.60" y2="417.60" stroke="#8a8a8a" stroke-width="1.2"/>
<line x1="132.70" y1="415.60" x2="132.70" y2="417.60" stroke="#8a8a8a" stroke-width="1.2"/>
<line x1="156.80" y1="415.60" x2="156.80" y2="417.60" stroke="#8a8a8a" stroke-width="1.2"/>
<line x1="180.90" y1="415.60" x2="180.90" y2="417.60" stroke="#8a8a8a" stroke-width="1.2"/>
<line x1="205.00" y1="415.60" x2="205.00" y2="417.60" stroke="#8a8a8a" stroke-width="1.2"/>
<line x1="229.10" y1="415.60" x2="229.10" y2="417.60" stroke="#8a8a8a" stroke-width="1.2"/>
<line x1="253.20" y1="415.60" x2="253.20" y2="417.60" stroke="#8a8a8a" stroke-width="1.2"/>
<text x="9.40" y="377.30" font-size="8.5" text-anchor="middle" font-weight="bold" transform="rotate(-90 9.40 377.30)" textLength="65.5" lengthAdjust="spacingAndGlyphs">Fraction of Input</text>
<rect x="39.00" y="407.99" width="4.70" height="7.61" fill="#858585" stroke="#333" stroke-width="0.5"/>
<line x1="41.35" y1="407.99" x2="41.35" y2="405.54" stroke="#333" stroke-width="0.7"/>
<line x1="40.15" y1="405.54" x2="42.55" y2="405.54" stroke="#333" stroke-width="0.7"/>
<rect x="43.70" y="407.26" width="4.70" height="8.34" fill="#fff" stroke="#333" stroke-width="0.5"/>
<line x1="46.05" y1="407.26" x2="46.05" y2="404.19" stroke="#333" stroke-width="0.7"/>
<line x1="44.85" y1="404.19" x2="47.25" y2="404.19" stroke="#333" stroke-width="0.7"/>
<rect x="48.40" y="381.25" width="4.70" height="34.35" fill="#000" stroke="#333" stroke-width="0.5"/>
<line x1="50.75" y1="381.25" x2="50.75" y2="375.12" stroke="#333" stroke-width="0.7"/>
<line x1="49.55" y1="375.12" x2="51.95" y2="375.12" stroke="#333" stroke-width="0.7"/>
<rect x="53.10" y="409.47" width="4.70" height="6.13" fill="#cdcdcd" stroke="#333" stroke-width="0.5"/>
<line x1="55.45" y1="409.47" x2="55.45" y2="407.01" stroke="#333" stroke-width="0.7"/>
<line x1="54.25" y1="407.01" x2="56.65" y2="407.01" stroke="#333" stroke-width="0.7"/>
<rect x="63.10" y="408.85" width="4.70" height="6.75" fill="#858585" stroke="#333" stroke-width="0.5"/>
<line x1="65.45" y1="408.85" x2="65.45" y2="406.40" stroke="#333" stroke-width="0.7"/>
<line x1="64.25" y1="406.40" x2="66.65" y2="406.40" stroke="#333" stroke-width="0.7"/>
<rect x="67.80" y="408.24" width="4.70" height="7.36" fill="#fff" stroke="#333" stroke-width="0.5"/>
<line x1="70.15" y1="408.24" x2="70.15" y2="405.79" stroke="#333" stroke-width="0.7"/>
<line x1="68.95" y1="405.79" x2="71.35" y2="405.79" stroke="#333" stroke-width="0.7"/>
<rect x="72.50" y="402.11" width="4.70" height="13.49" fill="#000" stroke="#333" stroke-width="0.5"/>
<line x1="74.85" y1="402.11" x2="74.85" y2="398.43" stroke="#333" stroke-width="0.7"/>
<line x1="73.65" y1="398.43" x2="76.05" y2="398.43" stroke="#333" stroke-width="0.7"/>
<rect x="77.20" y="411.31" width="4.70" height="4.29" fill="#cdcdcd" stroke="#333" stroke-width="0.5"/>
<line x1="79.55" y1="411.31" x2="79.55" y2="410.08" stroke="#333" stroke-width="0.7"/>
<line x1="78.35" y1="410.08" x2="80.75" y2="410.08" stroke="#333" stroke-width="0.7"/>
<rect x="87.20" y="411.31" width="4.70" height="4.29" fill="#858585" stroke="#333" stroke-width="0.5"/>
<line x1="89.55" y1="411.31" x2="89.55" y2="410.08" stroke="#333" stroke-width="0.7"/>
<line x1="88.35" y1="410.08" x2="90.75" y2="410.08" stroke="#333" stroke-width="0.7"/>
<rect x="91.90" y="408.24" width="4.70" height="7.36" fill="#fff" stroke="#333" stroke-width="0.5"/>
<line x1="94.25" y1="408.24" x2="94.25" y2="404.56" stroke="#333" stroke-width="0.7"/>
<line x1="93.05" y1="404.56" x2="95.45" y2="404.56" stroke="#333" stroke-width="0.7"/>
<rect x="96.60" y="394.75" width="4.70" height="20.85" fill="#000" stroke="#333" stroke-width="0.5"/>
<line x1="98.95" y1="394.75" x2="98.95" y2="391.07" stroke="#333" stroke-width="0.7"/>
<line x1="97.75" y1="391.07" x2="100.15" y2="391.07" stroke="#333" stroke-width="0.7"/>
<rect x="101.30" y="410.69" width="4.70" height="4.91" fill="#cdcdcd" stroke="#333" stroke-width="0.5"/>
<line x1="103.65" y1="410.69" x2="103.65" y2="409.47" stroke="#333" stroke-width="0.7"/>
<line x1="102.45" y1="409.47" x2="104.85" y2="409.47" stroke="#333" stroke-width="0.7"/>
<rect x="111.30" y="410.08" width="4.70" height="5.52" fill="#858585" stroke="#333" stroke-width="0.5"/>
<line x1="113.65" y1="410.08" x2="113.65" y2="408.85" stroke="#333" stroke-width="0.7"/>
<line x1="112.45" y1="408.85" x2="114.85" y2="408.85" stroke="#333" stroke-width="0.7"/>
<rect x="116.00" y="409.47" width="4.70" height="6.13" fill="#fff" stroke="#333" stroke-width="0.5"/>
<line x1="118.35" y1="409.47" x2="118.35" y2="407.01" stroke="#333" stroke-width="0.7"/>
<line x1="117.15" y1="407.01" x2="119.55" y2="407.01" stroke="#333" stroke-width="0.7"/>
<rect x="120.70" y="399.90" width="4.70" height="15.70" fill="#000" stroke="#333" stroke-width="0.5"/>
<line x1="123.05" y1="399.90" x2="123.05" y2="396.22" stroke="#333" stroke-width="0.7"/>
<line x1="121.85" y1="396.22" x2="124.25" y2="396.22" stroke="#333" stroke-width="0.7"/>
<rect x="125.40" y="408.85" width="4.70" height="6.75" fill="#cdcdcd" stroke="#333" stroke-width="0.5"/>
<line x1="127.75" y1="408.85" x2="127.75" y2="407.63" stroke="#333" stroke-width="0.7"/>
<line x1="126.55" y1="407.63" x2="128.95" y2="407.63" stroke="#333" stroke-width="0.7"/>
<rect x="159.50" y="408.24" width="4.70" height="7.36" fill="#858585" stroke="#333" stroke-width="0.5"/>
<line x1="161.85" y1="408.24" x2="161.85" y2="405.79" stroke="#333" stroke-width="0.7"/>
<line x1="160.65" y1="405.79" x2="163.05" y2="405.79" stroke="#333" stroke-width="0.7"/>
<rect x="164.20" y="407.01" width="4.70" height="8.59" fill="#fff" stroke="#333" stroke-width="0.5"/>
<line x1="166.55" y1="407.01" x2="166.55" y2="404.56" stroke="#333" stroke-width="0.7"/>
<line x1="165.35" y1="404.56" x2="167.75" y2="404.56" stroke="#333" stroke-width="0.7"/>
<rect x="168.90" y="367.76" width="4.70" height="47.84" fill="#000" stroke="#333" stroke-width="0.5"/>
<line x1="171.25" y1="367.76" x2="171.25" y2="360.40" stroke="#333" stroke-width="0.7"/>
<line x1="170.05" y1="360.40" x2="172.45" y2="360.40" stroke="#333" stroke-width="0.7"/>
<rect x="173.60" y="408.24" width="4.70" height="7.36" fill="#cdcdcd" stroke="#333" stroke-width="0.5"/>
<line x1="175.95" y1="408.24" x2="175.95" y2="405.79" stroke="#333" stroke-width="0.7"/>
<line x1="174.75" y1="405.79" x2="177.15" y2="405.79" stroke="#333" stroke-width="0.7"/>
<rect x="207.70" y="410.08" width="4.70" height="5.52" fill="#858585" stroke="#333" stroke-width="0.5"/>
<line x1="210.05" y1="410.08" x2="210.05" y2="408.85" stroke="#333" stroke-width="0.7"/>
<line x1="208.85" y1="408.85" x2="211.25" y2="408.85" stroke="#333" stroke-width="0.7"/>
<rect x="212.40" y="411.31" width="4.70" height="4.29" fill="#fff" stroke="#333" stroke-width="0.5"/>
<line x1="214.75" y1="411.31" x2="214.75" y2="410.08" stroke="#333" stroke-width="0.7"/>
<line x1="213.55" y1="410.08" x2="215.95" y2="410.08" stroke="#333" stroke-width="0.7"/>
<rect x="217.10" y="408.85" width="4.70" height="6.75" fill="#000" stroke="#333" stroke-width="0.5"/>
<line x1="219.45" y1="408.85" x2="219.45" y2="406.40" stroke="#333" stroke-width="0.7"/>
<line x1="218.25" y1="406.40" x2="220.65" y2="406.40" stroke="#333" stroke-width="0.7"/>
<rect x="221.80" y="413.15" width="4.70" height="2.45" fill="#cdcdcd" stroke="#333" stroke-width="0.5"/>
<line x1="224.15" y1="413.15" x2="224.15" y2="411.92" stroke="#333" stroke-width="0.7"/>
<line x1="222.95" y1="411.92" x2="225.35" y2="411.92" stroke="#333" stroke-width="0.7"/>
<rect x="231.80" y="410.08" width="4.70" height="5.52" fill="#858585" stroke="#333" stroke-width="0.5"/>
<line x1="234.15" y1="410.08" x2="234.15" y2="408.85" stroke="#333" stroke-width="0.7"/>
<line x1="232.95" y1="408.85" x2="235.35" y2="408.85" stroke="#333" stroke-width="0.7"/>
<rect x="236.50" y="409.47" width="4.70" height="6.13" fill="#fff" stroke="#333" stroke-width="0.5"/>
<line x1="238.85" y1="409.47" x2="238.85" y2="407.01" stroke="#333" stroke-width="0.7"/>
<line x1="237.65" y1="407.01" x2="240.05" y2="407.01" stroke="#333" stroke-width="0.7"/>
<rect x="241.20" y="406.03" width="4.70" height="9.57" fill="#000" stroke="#333" stroke-width="0.5"/>
<line x1="243.55" y1="406.03" x2="243.55" y2="403.58" stroke="#333" stroke-width="0.7"/>
<line x1="242.35" y1="403.58" x2="244.75" y2="403.58" stroke="#333" stroke-width="0.7"/>
<rect x="245.90" y="411.92" width="4.70" height="3.68" fill="#cdcdcd" stroke="#333" stroke-width="0.5"/>
<line x1="248.25" y1="411.92" x2="248.25" y2="410.69" stroke="#333" stroke-width="0.7"/>
<line x1="247.05" y1="410.69" x2="249.45" y2="410.69" stroke="#333" stroke-width="0.7"/>
<text x="48.10" y="425.80" font-size="5.6" text-anchor="middle" stroke="#000" stroke-width="0.1">Fcer1b</text>
<text x="48.10" y="431.60" font-size="5.6" text-anchor="middle" stroke="#000" stroke-width="0.1">prom</text>
<text x="72.20" y="425.80" font-size="5.6" text-anchor="middle" stroke="#000" stroke-width="0.1">Fcer1b</text>
<text x="72.20" y="431.60" font-size="5.6" text-anchor="middle" stroke="#000" stroke-width="0.1">UR</text>
<text x="96.30" y="425.80" font-size="5.6" text-anchor="middle" stroke="#000" stroke-width="0.1">Cpa3</text>
<text x="96.30" y="431.60" font-size="5.6" text-anchor="middle" stroke="#000" stroke-width="0.1">prom</text>
<text x="120.40" y="425.80" font-size="5.6" text-anchor="middle" stroke="#000" stroke-width="0.1">Cpa3</text>
<text x="120.40" y="431.60" font-size="5.6" text-anchor="middle" stroke="#000" stroke-width="0.1">5'TR</text>
<text x="168.60" y="425.80" font-size="5.6" text-anchor="middle" stroke="#000" stroke-width="0.1">Eraf</text>
<text x="168.60" y="431.60" font-size="5.6" text-anchor="middle" stroke="#000" stroke-width="0.1">prom</text>
<text x="216.80" y="425.80" font-size="5.6" text-anchor="middle" stroke="#000" stroke-width="0.1">Cd4</text>
<text x="216.80" y="431.60" font-size="5.6" text-anchor="middle" stroke="#000" stroke-width="0.1">5'TR</text>
<text x="240.90" y="425.80" font-size="5.6" text-anchor="middle" stroke="#000" stroke-width="0.1">Kit UR</text>
<text x="49.80" y="369.70" font-size="8.4" text-anchor="middle" font-weight="bold">*</text>
<text x="98.80" y="383.20" font-size="8.4" text-anchor="middle" font-weight="bold">*</text>
<text x="122.50" y="389.00" font-size="6.5" text-anchor="middle" stroke="#000" stroke-width="0.1">#</text>
<text x="171.20" y="351.50" font-size="8.4" text-anchor="middle" font-weight="bold">*</text>
<rect x="53.60" y="334.30" width="4.80" height="4.80" fill="#858585" stroke="#222" stroke-width="0.6"/>
<text x="59.90" y="339.89" font-size="8.3" stroke="#000" stroke-width="0.1">G1E: anti-GATA1</text>
<rect x="53.60" y="341.60" width="4.80" height="4.80" fill="#fff" stroke="#222" stroke-width="0.6"/>
<text x="59.90" y="347.19" font-size="8.3" stroke="#000" stroke-width="0.1">G1E: IgG control</text>
<rect x="53.60" y="349.70" width="4.80" height="4.80" fill="#000" stroke="#222" stroke-width="0.6"/>
<text x="59.90" y="355.29" font-size="8.3" stroke="#000" stroke-width="0.1">G1E-ER4 (+est.): anti-GATA1</text>
<rect x="53.60" y="357.20" width="4.80" height="4.80" fill="#cdcdcd" stroke="#222" stroke-width="0.6"/>
<text x="59.90" y="362.79" font-size="8.3" stroke="#000" stroke-width="0.1">G1E-ER4 (+est.): IgG control</text>
<text x="269.60" y="305.40" font-size="18.2" font-weight="bold">F</text>
<text x="421.20" y="312.30" font-size="9.9" text-anchor="middle" textLength="123.5" lengthAdjust="spacingAndGlyphs" stroke="#000" stroke-width="0.2">anti-GATA1 ChIP (mast cell)</text>
<line x1="328.00" y1="342.00" x2="328.00" y2="417.50" stroke="#333" stroke-width="0.8"/>
<line x1="326.00" y1="417.50" x2="500.00" y2="417.50" stroke="#333" stroke-width="0.8"/>
<line x1="326.00" y1="417.50" x2="328.00" y2="417.50" stroke="#333" stroke-width="0.8"/>
<text x="323.20" y="421.40" font-size="9.0" text-anchor="end" stroke="#000" stroke-width="0.1">0</text>
<line x1="326.00" y1="402.50" x2="328.00" y2="402.50" stroke="#333" stroke-width="0.8"/>
<text x="323.20" y="406.40" font-size="9.0" text-anchor="end" stroke="#000" stroke-width="0.1">0.001</text>
<line x1="326.00" y1="387.50" x2="328.00" y2="387.50" stroke="#333" stroke-width="0.8"/>
<text x="323.20" y="391.40" font-size="9.0" text-anchor="end" stroke="#000" stroke-width="0.1">0.002</text>
<line x1="326.00" y1="372.50" x2="328.00" y2="372.50" stroke="#333" stroke-width="0.8"/>
<text x="323.20" y="376.40" font-size="9.0" text-anchor="end" stroke="#000" stroke-width="0.1">0.003</text>
<line x1="326.00" y1="357.50" x2="328.00" y2="357.50" stroke="#333" stroke-width="0.8"/>
<text x="323.20" y="361.40" font-size="9.0" text-anchor="end" stroke="#000" stroke-width="0.1">0.004</text>
<line x1="326.00" y1="342.50" x2="328.00" y2="342.50" stroke="#333" stroke-width="0.8"/>
<text x="323.20" y="346.40" font-size="9.0" text-anchor="end" stroke="#000" stroke-width="0.1">0.005</text>
<line x1="356.80" y1="417.50" x2="356.80" y2="419.50" stroke="#333" stroke-width="0.8"/>
<line x1="385.45" y1="417.50" x2="385.45" y2="419.50" stroke="#333" stroke-width="0.8"/>
<line x1="414.10" y1="417.50" x2="414.10" y2="419.50" stroke="#333" stroke-width="0.8"/>
<line x1="442.75" y1="417.50" x2="442.75" y2="419.50" stroke="#333" stroke-width="0.8"/>
<line x1="471.40" y1="417.50" x2="471.40" y2="419.50" stroke="#333" stroke-width="0.8"/>
<line x1="500.05" y1="417.50" x2="500.05" y2="419.50" stroke="#333" stroke-width="0.8"/>
<text x="299.00" y="375.30" font-size="8.7" text-anchor="middle" font-weight="bold" transform="rotate(-90 299.00 375.30)" textLength="68.5" lengthAdjust="spacingAndGlyphs">Fraction of Input</text>
<rect x="334.10" y="366.95" width="8.40" height="50.55" fill="#000" stroke="#111" stroke-width="0.5"/>
<line x1="338.30" y1="366.95" x2="338.30" y2="352.70" stroke="#222" stroke-width="0.7"/>
<line x1="336.70" y1="352.70" x2="339.90" y2="352.70" stroke="#222" stroke-width="0.7"/>
<rect x="342.50" y="407.30" width="8.40" height="10.20" fill="#cbcbcb" stroke="#444" stroke-width="0.5"/>
<line x1="346.70" y1="407.30" x2="346.70" y2="404.60" stroke="#222" stroke-width="0.7"/>
<line x1="345.10" y1="404.60" x2="348.30" y2="404.60" stroke="#222" stroke-width="0.7"/>
<rect x="362.75" y="406.25" width="8.40" height="11.25" fill="#000" stroke="#111" stroke-width="0.5"/>
<line x1="366.95" y1="406.25" x2="366.95" y2="404.00" stroke="#222" stroke-width="0.7"/>
<line x1="365.35" y1="404.00" x2="368.55" y2="404.00" stroke="#222" stroke-width="0.7"/>
<rect x="371.15" y="408.80" width="8.40" height="8.70" fill="#cbcbcb" stroke="#444" stroke-width="0.5"/>
<line x1="375.35" y1="408.80" x2="375.35" y2="406.55" stroke="#222" stroke-width="0.7"/>
<line x1="373.75" y1="406.55" x2="376.95" y2="406.55" stroke="#222" stroke-width="0.7"/>
<rect x="391.40" y="376.25" width="8.40" height="41.25" fill="#000" stroke="#111" stroke-width="0.5"/>
<line x1="395.60" y1="376.25" x2="395.60" y2="368.00" stroke="#222" stroke-width="0.7"/>
<line x1="394.00" y1="368.00" x2="397.20" y2="368.00" stroke="#222" stroke-width="0.7"/>
<rect x="399.80" y="409.25" width="8.40" height="8.25" fill="#cbcbcb" stroke="#444" stroke-width="0.5"/>
<line x1="404.00" y1="409.25" x2="404.00" y2="406.55" stroke="#222" stroke-width="0.7"/>
<line x1="402.40" y1="406.55" x2="405.60" y2="406.55" stroke="#222" stroke-width="0.7"/>
<rect x="420.05" y="405.80" width="8.40" height="11.70" fill="#000" stroke="#111" stroke-width="0.5"/>
<line x1="424.25" y1="405.80" x2="424.25" y2="403.55" stroke="#222" stroke-width="0.7"/>
<line x1="422.65" y1="403.55" x2="425.85" y2="403.55" stroke="#222" stroke-width="0.7"/>
<rect x="428.45" y="408.95" width="8.40" height="8.55" fill="#cbcbcb" stroke="#444" stroke-width="0.5"/>
<line x1="432.65" y1="408.95" x2="432.65" y2="406.70" stroke="#222" stroke-width="0.7"/>
<line x1="431.05" y1="406.70" x2="434.25" y2="406.70" stroke="#222" stroke-width="0.7"/>
<rect x="448.70" y="407.45" width="8.40" height="10.05" fill="#000" stroke="#111" stroke-width="0.5"/>
<line x1="452.90" y1="407.45" x2="452.90" y2="406.70" stroke="#222" stroke-width="0.7"/>
<line x1="451.30" y1="406.70" x2="454.50" y2="406.70" stroke="#222" stroke-width="0.7"/>
<rect x="457.10" y="411.50" width="8.40" height="6.00" fill="#cbcbcb" stroke="#444" stroke-width="0.5"/>
<line x1="461.30" y1="411.50" x2="461.30" y2="411.05" stroke="#222" stroke-width="0.7"/>
<line x1="459.70" y1="411.05" x2="462.90" y2="411.05" stroke="#222" stroke-width="0.7"/>
<rect x="477.35" y="413.00" width="8.40" height="4.50" fill="#000" stroke="#111" stroke-width="0.5"/>
<line x1="481.55" y1="413.00" x2="481.55" y2="412.55" stroke="#222" stroke-width="0.7"/>
<line x1="479.95" y1="412.55" x2="483.15" y2="412.55" stroke="#222" stroke-width="0.7"/>
<rect x="485.75" y="414.50" width="8.40" height="3.00" fill="#cbcbcb" stroke="#444" stroke-width="0.5"/>
<line x1="489.95" y1="414.50" x2="489.95" y2="414.05" stroke="#222" stroke-width="0.7"/>
<line x1="488.35" y1="414.05" x2="491.55" y2="414.05" stroke="#222" stroke-width="0.7"/>
<text x="343.70" y="428.00" font-size="6.0" text-anchor="middle" stroke="#000" stroke-width="0.1">Fcer1b</text>
<text x="343.70" y="433.80" font-size="6.0" text-anchor="middle" stroke="#000" stroke-width="0.1">prom</text>
<text x="372.35" y="428.00" font-size="6.0" text-anchor="middle" stroke="#000" stroke-width="0.1">Fcer1b</text>
<text x="372.35" y="433.80" font-size="6.0" text-anchor="middle" stroke="#000" stroke-width="0.1">UR</text>
<text x="401.00" y="428.00" font-size="6.0" text-anchor="middle" stroke="#000" stroke-width="0.1">Cpa3</text>
<text x="401.00" y="433.80" font-size="6.0" text-anchor="middle" stroke="#000" stroke-width="0.1">prom</text>
<text x="429.65" y="428.00" font-size="6.0" text-anchor="middle" stroke="#000" stroke-width="0.1">Cpa3</text>
<text x="429.65" y="433.80" font-size="6.0" text-anchor="middle" stroke="#000" stroke-width="0.1">5'TR</text>
<text x="458.30" y="428.00" font-size="6.0" text-anchor="middle" stroke="#000" stroke-width="0.1">Hbb-b1</text>
<text x="458.30" y="433.80" font-size="6.0" text-anchor="middle" stroke="#000" stroke-width="0.1">prom</text>
<text x="486.95" y="428.00" font-size="6.0" text-anchor="middle" stroke="#000" stroke-width="0.1">Hbb-b1</text>
<text x="486.95" y="433.80" font-size="6.0" text-anchor="middle" stroke="#000" stroke-width="0.1">ctrl</text>
<text x="338.20" y="346.60" font-size="6.5" text-anchor="middle" stroke="#000" stroke-width="0.1">#</text>
<text x="395.50" y="360.40" font-size="6.5" text-anchor="middle" stroke="#000" stroke-width="0.1">#</text>
<rect x="451.30" y="349.45" width="4.50" height="4.50" fill="#000" stroke="#222" stroke-width="0.6"/>
<text x="457.50" y="355.00" font-size="8.6" stroke="#000" stroke-width="0.1">anti-GATA1</text>
<rect x="451.30" y="357.55" width="4.50" height="4.50" fill="#cbcbcb" stroke="#222" stroke-width="0.6"/>
<text x="457.50" y="363.10" font-size="8.6" stroke="#000" stroke-width="0.1">IgG control</text>
<text x="0.60" y="470.20" font-size="18.2" font-weight="bold">G</text>
<text x="134.50" y="464.60" font-size="9.9" text-anchor="middle" textLength="120.0" lengthAdjust="spacingAndGlyphs" stroke="#000" stroke-width="0.2">anti-FOG1 ChIP (G1E cells)</text>
<line x1="42.90" y1="495.60" x2="42.90" y2="570.20" stroke="#8a8a8a" stroke-width="1.2"/>
<line x1="40.90" y1="570.20" x2="254.00" y2="570.20" stroke="#8a8a8a" stroke-width="1.2"/>
<line x1="40.90" y1="570.20" x2="42.90" y2="570.20" stroke="#8a8a8a" stroke-width="1.2"/>
<text x="38.60" y="572.83" font-size="7.3" text-anchor="end" fill="#444" stroke="#444" stroke-width="0.1">0</text>
<line x1="40.90" y1="551.68" x2="42.90" y2="551.68" stroke="#8a8a8a" stroke-width="1.2"/>
<text x="38.60" y="554.30" font-size="7.3" text-anchor="end" fill="#444" stroke="#444" stroke-width="0.1">0.002</text>
<line x1="40.90" y1="533.15" x2="42.90" y2="533.15" stroke="#8a8a8a" stroke-width="1.2"/>
<text x="38.60" y="535.78" font-size="7.3" text-anchor="end" fill="#444" stroke="#444" stroke-width="0.1">0.004</text>
<line x1="40.90" y1="514.62" x2="42.90" y2="514.62" stroke="#8a8a8a" stroke-width="1.2"/>
<text x="38.60" y="517.25" font-size="7.3" text-anchor="end" fill="#444" stroke="#444" stroke-width="0.1">0.006</text>
<line x1="40.90" y1="496.10" x2="42.90" y2="496.10" stroke="#8a8a8a" stroke-width="1.2"/>
<text x="38.60" y="498.73" font-size="7.3" text-anchor="end" fill="#444" stroke="#444" stroke-width="0.1">0.008</text>
<line x1="66.70" y1="570.20" x2="66.70" y2="572.20" stroke="#8a8a8a" stroke-width="1.2"/>
<line x1="90.15" y1="570.20" x2="90.15" y2="572.20" stroke="#8a8a8a" stroke-width="1.2"/>
<line x1="113.60" y1="570.20" x2="113.60" y2="572.20" stroke="#8a8a8a" stroke-width="1.2"/>
<line x1="137.05" y1="570.20" x2="137.05" y2="572.20" stroke="#8a8a8a" stroke-width="1.2"/>
<line x1="160.50" y1="570.20" x2="160.50" y2="572.20" stroke="#8a8a8a" stroke-width="1.2"/>
<line x1="183.95" y1="570.20" x2="183.95" y2="572.20" stroke="#8a8a8a" stroke-width="1.2"/>
<line x1="207.40" y1="570.20" x2="207.40" y2="572.20" stroke="#8a8a8a" stroke-width="1.2"/>
<line x1="230.85" y1="570.20" x2="230.85" y2="572.20" stroke="#8a8a8a" stroke-width="1.2"/>
<line x1="254.30" y1="570.20" x2="254.30" y2="572.20" stroke="#8a8a8a" stroke-width="1.2"/>
<text x="17.80" y="530.30" font-size="8.1" text-anchor="middle" font-weight="bold" transform="rotate(-90 17.80 530.30)" textLength="63.4" lengthAdjust="spacingAndGlyphs">Fraction of Input</text>
<rect x="46.00" y="539.26" width="4.50" height="30.94" fill="#858585" stroke="#333" stroke-width="0.5"/>
<line x1="48.25" y1="539.26" x2="48.25" y2="531.20" stroke="#333" stroke-width="0.7"/>
<line x1="47.05" y1="531.20" x2="49.45" y2="531.20" stroke="#333" stroke-width="0.7"/>
<rect x="50.50" y="565.66" width="4.50" height="4.54" fill="#fff" stroke="#333" stroke-width="0.5"/>
<line x1="52.75" y1="565.66" x2="52.75" y2="563.81" stroke="#333" stroke-width="0.7"/>
<line x1="51.55" y1="563.81" x2="53.95" y2="563.81" stroke="#333" stroke-width="0.7"/>
<rect x="55.00" y="541.02" width="4.50" height="29.18" fill="#000" stroke="#333" stroke-width="0.5"/>
<line x1="57.25" y1="541.02" x2="57.25" y2="536.39" stroke="#333" stroke-width="0.7"/>
<line x1="56.05" y1="536.39" x2="58.45" y2="536.39" stroke="#333" stroke-width="0.7"/>
<rect x="59.50" y="566.50" width="4.50" height="3.71" fill="#cdcdcd" stroke="#333" stroke-width="0.5"/>
<line x1="61.75" y1="566.50" x2="61.75" y2="564.64" stroke="#333" stroke-width="0.7"/>
<line x1="60.55" y1="564.64" x2="62.95" y2="564.64" stroke="#333" stroke-width="0.7"/>
<rect x="69.45" y="564.18" width="4.50" height="6.02" fill="#858585" stroke="#333" stroke-width="0.5"/>
<line x1="71.70" y1="564.18" x2="71.70" y2="563.25" stroke="#333" stroke-width="0.7"/>
<line x1="70.50" y1="563.25" x2="72.90" y2="563.25" stroke="#333" stroke-width="0.7"/>
<rect x="73.95" y="564.64" width="4.50" height="5.56" fill="#fff" stroke="#333" stroke-width="0.5"/>
<line x1="76.20" y1="564.64" x2="76.20" y2="563.72" stroke="#333" stroke-width="0.7"/>
<line x1="75.00" y1="563.72" x2="77.40" y2="563.72" stroke="#333" stroke-width="0.7"/>
<rect x="78.45" y="551.21" width="4.50" height="18.99" fill="#000" stroke="#333" stroke-width="0.5"/>
<line x1="80.70" y1="551.21" x2="80.70" y2="549.82" stroke="#333" stroke-width="0.7"/>
<line x1="79.50" y1="549.82" x2="81.90" y2="549.82" stroke="#333" stroke-width="0.7"/>
<rect x="82.95" y="567.42" width="4.50" height="2.78" fill="#cdcdcd" stroke="#333" stroke-width="0.5"/>
<line x1="85.20" y1="567.42" x2="85.20" y2="565.57" stroke="#333" stroke-width="0.7"/>
<line x1="84.00" y1="565.57" x2="86.40" y2="565.57" stroke="#333" stroke-width="0.7"/>
<rect x="92.90" y="549.82" width="4.50" height="20.38" fill="#858585" stroke="#333" stroke-width="0.5"/>
<line x1="95.15" y1="549.82" x2="95.15" y2="547.97" stroke="#333" stroke-width="0.7"/>
<line x1="93.95" y1="547.97" x2="96.35" y2="547.97" stroke="#333" stroke-width="0.7"/>
<rect x="97.40" y="568.35" width="4.50" height="1.85" fill="#fff" stroke="#333" stroke-width="0.5"/>
<line x1="99.65" y1="568.35" x2="99.65" y2="567.42" stroke="#333" stroke-width="0.7"/>
<line x1="98.45" y1="567.42" x2="100.85" y2="567.42" stroke="#333" stroke-width="0.7"/>
<rect x="101.90" y="552.14" width="4.50" height="18.06" fill="#000" stroke="#333" stroke-width="0.5"/>
<line x1="104.15" y1="552.14" x2="104.15" y2="550.75" stroke="#333" stroke-width="0.7"/>
<line x1="102.95" y1="550.75" x2="105.35" y2="550.75" stroke="#333" stroke-width="0.7"/>
<rect x="106.40" y="567.42" width="4.50" height="2.78" fill="#cdcdcd" stroke="#333" stroke-width="0.5"/>
<line x1="108.65" y1="567.42" x2="108.65" y2="566.50" stroke="#333" stroke-width="0.7"/>
<line x1="107.45" y1="566.50" x2="109.85" y2="566.50" stroke="#333" stroke-width="0.7"/>
<rect x="116.35" y="562.14" width="4.50" height="8.06" fill="#858585" stroke="#333" stroke-width="0.5"/>
<line x1="118.60" y1="562.14" x2="118.60" y2="561.03" stroke="#333" stroke-width="0.7"/>
<line x1="117.40" y1="561.03" x2="119.80" y2="561.03" stroke="#333" stroke-width="0.7"/>
<rect x="120.85" y="567.42" width="4.50" height="2.78" fill="#fff" stroke="#333" stroke-width="0.5"/>
<line x1="123.10" y1="567.42" x2="123.10" y2="566.50" stroke="#333" stroke-width="0.7"/>
<line x1="121.90" y1="566.50" x2="124.30" y2="566.50" stroke="#333" stroke-width="0.7"/>
<rect x="125.35" y="555.57" width="4.50" height="14.63" fill="#000" stroke="#333" stroke-width="0.5"/>
<line x1="127.60" y1="555.57" x2="127.60" y2="554.18" stroke="#333" stroke-width="0.7"/>
<line x1="126.40" y1="554.18" x2="128.80" y2="554.18" stroke="#333" stroke-width="0.7"/>
<rect x="129.85" y="565.57" width="4.50" height="4.63" fill="#cdcdcd" stroke="#333" stroke-width="0.5"/>
<line x1="132.10" y1="565.57" x2="132.10" y2="562.79" stroke="#333" stroke-width="0.7"/>
<line x1="130.90" y1="562.79" x2="133.30" y2="562.79" stroke="#333" stroke-width="0.7"/>
<rect x="163.25" y="553.34" width="4.50" height="16.86" fill="#858585" stroke="#333" stroke-width="0.5"/>
<line x1="165.50" y1="553.34" x2="165.50" y2="551.49" stroke="#333" stroke-width="0.7"/>
<line x1="164.30" y1="551.49" x2="166.70" y2="551.49" stroke="#333" stroke-width="0.7"/>
<rect x="167.75" y="567.42" width="4.50" height="2.78" fill="#fff" stroke="#333" stroke-width="0.5"/>
<line x1="170.00" y1="567.42" x2="170.00" y2="566.50" stroke="#333" stroke-width="0.7"/>
<line x1="168.80" y1="566.50" x2="171.20" y2="566.50" stroke="#333" stroke-width="0.7"/>
<rect x="172.25" y="521.11" width="4.50" height="49.09" fill="#000" stroke="#333" stroke-width="0.5"/>
<line x1="174.50" y1="521.11" x2="174.50" y2="516.01" stroke="#333" stroke-width="0.7"/>
<line x1="173.30" y1="516.01" x2="175.70" y2="516.01" stroke="#333" stroke-width="0.7"/>
<rect x="176.75" y="558.44" width="4.50" height="11.76" fill="#cdcdcd" stroke="#333" stroke-width="0.5"/>
<line x1="179.00" y1="558.44" x2="179.00" y2="553.16" stroke="#333" stroke-width="0.7"/>
<line x1="177.80" y1="553.16" x2="180.20" y2="553.16" stroke="#333" stroke-width="0.7"/>
<rect x="210.15" y="564.64" width="4.50" height="5.56" fill="#858585" stroke="#333" stroke-width="0.5"/>
<line x1="212.40" y1="564.64" x2="212.40" y2="563.72" stroke="#333" stroke-width="0.7"/>
<line x1="211.20" y1="563.72" x2="213.60" y2="563.72" stroke="#333" stroke-width="0.7"/>
<rect x="214.65" y="567.42" width="4.50" height="2.78" fill="#fff" stroke="#333" stroke-width="0.5"/>
<line x1="216.90" y1="567.42" x2="216.90" y2="566.50" stroke="#333" stroke-width="0.7"/>
<line x1="215.70" y1="566.50" x2="218.10" y2="566.50" stroke="#333" stroke-width="0.7"/>
<rect x="219.15" y="562.14" width="4.50" height="8.06" fill="#000" stroke="#333" stroke-width="0.5"/>
<line x1="221.40" y1="562.14" x2="221.40" y2="561.22" stroke="#333" stroke-width="0.7"/>
<line x1="220.20" y1="561.22" x2="222.60" y2="561.22" stroke="#333" stroke-width="0.7"/>
<rect x="223.65" y="566.50" width="4.50" height="3.71" fill="#cdcdcd" stroke="#333" stroke-width="0.5"/>
<line x1="225.90" y1="566.50" x2="225.90" y2="565.57" stroke="#333" stroke-width="0.7"/>
<line x1="224.70" y1="565.57" x2="227.10" y2="565.57" stroke="#333" stroke-width="0.7"/>
<rect x="233.60" y="564.64" width="4.50" height="5.56" fill="#858585" stroke="#333" stroke-width="0.5"/>
<line x1="235.85" y1="564.64" x2="235.85" y2="563.72" stroke="#333" stroke-width="0.7"/>
<line x1="234.65" y1="563.72" x2="237.05" y2="563.72" stroke="#333" stroke-width="0.7"/>
<rect x="238.10" y="565.57" width="4.50" height="4.63" fill="#fff" stroke="#333" stroke-width="0.5"/>
<line x1="240.35" y1="565.57" x2="240.35" y2="563.72" stroke="#333" stroke-width="0.7"/>
<line x1="239.15" y1="563.72" x2="241.55" y2="563.72" stroke="#333" stroke-width="0.7"/>
<rect x="242.60" y="562.60" width="4.50" height="7.60" fill="#000" stroke="#333" stroke-width="0.5"/>
<line x1="244.85" y1="562.60" x2="244.85" y2="561.68" stroke="#333" stroke-width="0.7"/>
<line x1="243.65" y1="561.68" x2="246.05" y2="561.68" stroke="#333" stroke-width="0.7"/>
<rect x="247.10" y="566.50" width="4.50" height="3.71" fill="#cdcdcd" stroke="#333" stroke-width="0.5"/>
<line x1="249.35" y1="566.50" x2="249.35" y2="565.57" stroke="#333" stroke-width="0.7"/>
<line x1="248.15" y1="565.57" x2="250.55" y2="565.57" stroke="#333" stroke-width="0.7"/>
<text x="54.20" y="580.00" font-size="6.0" text-anchor="middle" stroke="#000" stroke-width="0.1">Fcer1b</text>
<text x="54.20" y="586.00" font-size="6.0" text-anchor="middle" stroke="#000" stroke-width="0.1">prom</text>
<text x="77.65" y="580.00" font-size="6.0" text-anchor="middle" stroke="#000" stroke-width="0.1">Fcer1b</text>
<text x="77.65" y="586.00" font-size="6.0" text-anchor="middle" stroke="#000" stroke-width="0.1">UR</text>
<text x="101.10" y="580.00" font-size="6.0" text-anchor="middle" stroke="#000" stroke-width="0.1">Cpa3</text>
<text x="101.10" y="586.00" font-size="6.0" text-anchor="middle" stroke="#000" stroke-width="0.1">prom</text>
<text x="124.55" y="580.00" font-size="6.0" text-anchor="middle" stroke="#000" stroke-width="0.1">Cpa3</text>
<text x="124.55" y="586.00" font-size="6.0" text-anchor="middle" stroke="#000" stroke-width="0.1">5'TR</text>
<text x="171.45" y="580.00" font-size="6.0" text-anchor="middle" stroke="#000" stroke-width="0.1">Eraf</text>
<text x="171.45" y="586.00" font-size="6.0" text-anchor="middle" stroke="#000" stroke-width="0.1">prom</text>
<text x="218.35" y="580.00" font-size="6.0" text-anchor="middle" stroke="#000" stroke-width="0.1">Cd4</text>
<text x="218.35" y="586.00" font-size="6.0" text-anchor="middle" stroke="#000" stroke-width="0.1">5'TR</text>
<text x="241.80" y="580.00" font-size="6.0" text-anchor="middle" stroke="#000" stroke-width="0.1">Kit UR</text>
<text x="48.40" y="526.30" font-size="6.5" text-anchor="middle" stroke="#000" stroke-width="0.1">#</text>
<text x="56.30" y="531.70" font-size="8.4" text-anchor="middle" font-weight="bold">*</text>
<text x="80.80" y="543.00" font-size="6.5" text-anchor="middle" stroke="#000" stroke-width="0.1">#</text>
<text x="95.00" y="540.10" font-size="8.4" text-anchor="middle" font-weight="bold">*</text>
<text x="103.30" y="545.30" font-size="8.4" text-anchor="middle" font-weight="bold">*</text>
<text x="118.60" y="556.50" font-size="6.5" text-anchor="middle" stroke="#000" stroke-width="0.1">#</text>
<text x="127.30" y="549.00" font-size="6.5" text-anchor="middle" stroke="#000" stroke-width="0.1">#</text>
<text x="175.10" y="511.70" font-size="8.4" text-anchor="middle" font-weight="bold">*</text>
<rect x="54.40" y="490.50" width="4.80" height="4.80" fill="#858585" stroke="#222" stroke-width="0.6"/>
<text x="61.00" y="495.98" font-size="8.0" stroke="#000" stroke-width="0.1">G1E: anti-FOG1</text>
<rect x="54.40" y="499.40" width="4.80" height="4.80" fill="#fff" stroke="#222" stroke-width="0.6"/>
<text x="61.00" y="504.88" font-size="8.0" stroke="#000" stroke-width="0.1">G1E: IgG control</text>
<rect x="54.40" y="508.00" width="4.80" height="4.80" fill="#000" stroke="#222" stroke-width="0.6"/>
<text x="61.00" y="513.48" font-size="8.0" stroke="#000" stroke-width="0.1">G1E-ER4 (+est.): anti-FOG1</text>
<rect x="54.40" y="516.30" width="4.80" height="4.80" fill="#cdcdcd" stroke="#222" stroke-width="0.6"/>
<text x="61.00" y="521.78" font-size="8.0" stroke="#000" stroke-width="0.1">G1E-ER4 (+est.): IgG control</text>
<text x="270.30" y="469.10" font-size="19.6" font-weight="bold">H</text>
<text x="403.90" y="462.60" font-size="9.9" text-anchor="middle" textLength="119.5" lengthAdjust="spacingAndGlyphs" stroke="#000" stroke-width="0.2">anti-MTA2 ChIP (G1E cells)</text>
<line x1="328.40" y1="491.00" x2="328.40" y2="570.70" stroke="#333" stroke-width="0.8"/>
<line x1="326.40" y1="570.70" x2="497.50" y2="570.70" stroke="#333" stroke-width="0.8"/>
<line x1="326.40" y1="570.70" x2="328.40" y2="570.70" stroke="#333" stroke-width="0.8"/>
<text x="325.00" y="573.15" font-size="6.8" text-anchor="end" fill="#333" stroke="#333" stroke-width="0.1">0</text>
<line x1="326.40" y1="557.50" x2="328.40" y2="557.50" stroke="#333" stroke-width="0.8"/>
<text x="325.00" y="559.95" font-size="6.8" text-anchor="end" fill="#333" stroke="#333" stroke-width="0.1">0.002</text>
<line x1="326.40" y1="544.30" x2="328.40" y2="544.30" stroke="#333" stroke-width="0.8"/>
<text x="325.00" y="546.75" font-size="6.8" text-anchor="end" fill="#333" stroke="#333" stroke-width="0.1">0.004</text>
<line x1="326.40" y1="531.10" x2="328.40" y2="531.10" stroke="#333" stroke-width="0.8"/>
<text x="325.00" y="533.55" font-size="6.8" text-anchor="end" fill="#333" stroke="#333" stroke-width="0.1">0.006</text>
<line x1="326.40" y1="517.90" x2="328.40" y2="517.90" stroke="#333" stroke-width="0.8"/>
<text x="325.00" y="520.35" font-size="6.8" text-anchor="end" fill="#333" stroke="#333" stroke-width="0.1">0.008</text>
<line x1="326.40" y1="504.70" x2="328.40" y2="504.70" stroke="#333" stroke-width="0.8"/>
<text x="325.00" y="507.15" font-size="6.8" text-anchor="end" fill="#333" stroke="#333" stroke-width="0.1">0.01</text>
<line x1="326.40" y1="491.50" x2="328.40" y2="491.50" stroke="#333" stroke-width="0.8"/>
<text x="325.00" y="493.95" font-size="6.8" text-anchor="end" fill="#333" stroke="#333" stroke-width="0.1">0.012</text>
<line x1="356.58" y1="570.70" x2="356.58" y2="572.70" stroke="#333" stroke-width="0.8"/>
<line x1="384.94" y1="570.70" x2="384.94" y2="572.70" stroke="#333" stroke-width="0.8"/>
<line x1="413.30" y1="570.70" x2="413.30" y2="572.70" stroke="#333" stroke-width="0.8"/>
<line x1="441.66" y1="570.70" x2="441.66" y2="572.70" stroke="#333" stroke-width="0.8"/>
<line x1="470.02" y1="570.70" x2="470.02" y2="572.70" stroke="#333" stroke-width="0.8"/>
<line x1="498.38" y1="570.70" x2="498.38" y2="572.70" stroke="#333" stroke-width="0.8"/>
<text x="306.30" y="529.00" font-size="8.8" text-anchor="middle" transform="rotate(-90 306.30 529.00)" textLength="63.5" lengthAdjust="spacingAndGlyphs" stroke="#000" stroke-width="0.1">Fraction of Input</text>
<rect x="332.00" y="543.64" width="5.20" height="27.06" fill="#8a8a8a" stroke="#333" stroke-width="0.5"/>
<line x1="334.60" y1="543.64" x2="334.60" y2="535.06" stroke="#333" stroke-width="0.7"/>
<line x1="333.40" y1="535.06" x2="335.80" y2="535.06" stroke="#333" stroke-width="0.7"/>
<rect x="337.20" y="564.50" width="5.20" height="6.20" fill="#fff" stroke="#333" stroke-width="0.5"/>
<line x1="339.80" y1="564.50" x2="339.80" y2="563.18" stroke="#333" stroke-width="0.7"/>
<line x1="338.60" y1="563.18" x2="341.00" y2="563.18" stroke="#333" stroke-width="0.7"/>
<rect x="342.40" y="552.02" width="5.20" height="18.68" fill="#000" stroke="#333" stroke-width="0.5"/>
<line x1="345.00" y1="552.02" x2="345.00" y2="546.74" stroke="#333" stroke-width="0.7"/>
<line x1="343.80" y1="546.74" x2="346.20" y2="546.74" stroke="#333" stroke-width="0.7"/>
<rect x="347.60" y="565.88" width="5.20" height="4.82" fill="#d4d4d4" stroke="#333" stroke-width="0.5"/>
<line x1="350.20" y1="565.88" x2="350.20" y2="564.56" stroke="#333" stroke-width="0.7"/>
<line x1="349.00" y1="564.56" x2="351.40" y2="564.56" stroke="#333" stroke-width="0.7"/>
<rect x="360.36" y="552.88" width="5.20" height="17.82" fill="#8a8a8a" stroke="#333" stroke-width="0.5"/>
<line x1="362.96" y1="552.88" x2="362.96" y2="548.26" stroke="#333" stroke-width="0.7"/>
<line x1="361.76" y1="548.26" x2="364.16" y2="548.26" stroke="#333" stroke-width="0.7"/>
<rect x="365.56" y="568.72" width="5.20" height="1.98" fill="#fff" stroke="#333" stroke-width="0.5"/>
<line x1="368.16" y1="568.72" x2="368.16" y2="568.06" stroke="#333" stroke-width="0.7"/>
<line x1="366.96" y1="568.06" x2="369.36" y2="568.06" stroke="#333" stroke-width="0.7"/>
<rect x="370.76" y="556.38" width="5.20" height="14.32" fill="#000" stroke="#333" stroke-width="0.5"/>
<line x1="373.36" y1="556.38" x2="373.36" y2="550.44" stroke="#333" stroke-width="0.7"/>
<line x1="372.16" y1="550.44" x2="374.56" y2="550.44" stroke="#333" stroke-width="0.7"/>
<rect x="375.96" y="566.08" width="5.20" height="4.62" fill="#d4d4d4" stroke="#333" stroke-width="0.5"/>
<line x1="378.56" y1="566.08" x2="378.56" y2="564.76" stroke="#333" stroke-width="0.7"/>
<line x1="377.36" y1="564.76" x2="379.76" y2="564.76" stroke="#333" stroke-width="0.7"/>
<rect x="388.72" y="533.08" width="5.20" height="37.62" fill="#8a8a8a" stroke="#333" stroke-width="0.5"/>
<line x1="391.32" y1="533.08" x2="391.32" y2="524.50" stroke="#333" stroke-width="0.7"/>
<line x1="390.12" y1="524.50" x2="392.52" y2="524.50" stroke="#333" stroke-width="0.7"/>
<rect x="393.92" y="564.43" width="5.20" height="6.27" fill="#fff" stroke="#333" stroke-width="0.5"/>
<line x1="396.52" y1="564.43" x2="396.52" y2="562.45" stroke="#333" stroke-width="0.7"/>
<line x1="395.32" y1="562.45" x2="397.72" y2="562.45" stroke="#333" stroke-width="0.7"/>
<rect x="399.12" y="555.52" width="5.20" height="15.18" fill="#000" stroke="#333" stroke-width="0.5"/>
<line x1="401.72" y1="555.52" x2="401.72" y2="549.58" stroke="#333" stroke-width="0.7"/>
<line x1="400.52" y1="549.58" x2="402.92" y2="549.58" stroke="#333" stroke-width="0.7"/>
<rect x="404.32" y="565.42" width="5.20" height="5.28" fill="#d4d4d4" stroke="#333" stroke-width="0.5"/>
<line x1="406.92" y1="565.42" x2="406.92" y2="564.10" stroke="#333" stroke-width="0.7"/>
<line x1="405.72" y1="564.10" x2="408.12" y2="564.10" stroke="#333" stroke-width="0.7"/>
<rect x="417.08" y="551.23" width="5.20" height="19.47" fill="#8a8a8a" stroke="#333" stroke-width="0.5"/>
<line x1="419.68" y1="551.23" x2="419.68" y2="547.93" stroke="#333" stroke-width="0.7"/>
<line x1="418.48" y1="547.93" x2="420.88" y2="547.93" stroke="#333" stroke-width="0.7"/>
<rect x="422.28" y="568.72" width="5.20" height="1.98" fill="#fff" stroke="#333" stroke-width="0.5"/>
<line x1="424.88" y1="568.72" x2="424.88" y2="568.06" stroke="#333" stroke-width="0.7"/>
<line x1="423.68" y1="568.06" x2="426.08" y2="568.06" stroke="#333" stroke-width="0.7"/>
<rect x="427.48" y="561.92" width="5.20" height="8.78" fill="#000" stroke="#333" stroke-width="0.5"/>
<line x1="430.08" y1="561.92" x2="430.08" y2="557.96" stroke="#333" stroke-width="0.7"/>
<line x1="428.88" y1="557.96" x2="431.28" y2="557.96" stroke="#333" stroke-width="0.7"/>
<rect x="432.68" y="568.06" width="5.20" height="2.64" fill="#d4d4d4" stroke="#333" stroke-width="0.5"/>
<line x1="435.28" y1="568.06" x2="435.28" y2="567.40" stroke="#333" stroke-width="0.7"/>
<line x1="434.08" y1="567.40" x2="436.48" y2="567.40" stroke="#333" stroke-width="0.7"/>
<rect x="445.44" y="555.72" width="5.20" height="14.98" fill="#8a8a8a" stroke="#333" stroke-width="0.5"/>
<line x1="448.04" y1="555.72" x2="448.04" y2="553.08" stroke="#333" stroke-width="0.7"/>
<line x1="446.84" y1="553.08" x2="449.24" y2="553.08" stroke="#333" stroke-width="0.7"/>
<rect x="450.64" y="568.72" width="5.20" height="1.98" fill="#fff" stroke="#333" stroke-width="0.5"/>
<line x1="453.24" y1="568.72" x2="453.24" y2="568.06" stroke="#333" stroke-width="0.7"/>
<line x1="452.04" y1="568.06" x2="454.44" y2="568.06" stroke="#333" stroke-width="0.7"/>
<rect x="455.84" y="531.10" width="5.20" height="39.60" fill="#000" stroke="#333" stroke-width="0.5"/>
<line x1="458.44" y1="531.10" x2="458.44" y2="518.56" stroke="#333" stroke-width="0.7"/>
<line x1="457.24" y1="518.56" x2="459.64" y2="518.56" stroke="#333" stroke-width="0.7"/>
<rect x="461.04" y="564.43" width="5.20" height="6.27" fill="#d4d4d4" stroke="#333" stroke-width="0.5"/>
<line x1="463.64" y1="564.43" x2="463.64" y2="562.45" stroke="#333" stroke-width="0.7"/>
<line x1="462.44" y1="562.45" x2="464.84" y2="562.45" stroke="#333" stroke-width="0.7"/>
<rect x="473.80" y="564.89" width="5.20" height="5.81" fill="#8a8a8a" stroke="#333" stroke-width="0.5"/>
<line x1="476.40" y1="564.89" x2="476.40" y2="562.25" stroke="#333" stroke-width="0.7"/>
<line x1="475.20" y1="562.25" x2="477.60" y2="562.25" stroke="#333" stroke-width="0.7"/>
<rect x="479.00" y="568.06" width="5.20" height="2.64" fill="#fff" stroke="#333" stroke-width="0.5"/>
<line x1="481.60" y1="568.06" x2="481.60" y2="567.40" stroke="#333" stroke-width="0.7"/>
<line x1="480.40" y1="567.40" x2="482.80" y2="567.40" stroke="#333" stroke-width="0.7"/>
<rect x="484.20" y="561.13" width="5.20" height="9.57" fill="#000" stroke="#333" stroke-width="0.5"/>
<line x1="486.80" y1="561.13" x2="486.80" y2="557.17" stroke="#333" stroke-width="0.7"/>
<line x1="485.60" y1="557.17" x2="488.00" y2="557.17" stroke="#333" stroke-width="0.7"/>
<rect x="489.40" y="568.72" width="5.20" height="1.98" fill="#d4d4d4" stroke="#333" stroke-width="0.5"/>
<line x1="492.00" y1="568.72" x2="492.00" y2="568.06" stroke="#333" stroke-width="0.7"/>
<line x1="490.80" y1="568.06" x2="493.20" y2="568.06" stroke="#333" stroke-width="0.7"/>
<text x="342.90" y="580.50" font-size="6.7" text-anchor="middle" stroke="#000" stroke-width="0.1">Fcer1b</text>
<text x="342.90" y="587.50" font-size="6.7" text-anchor="middle" stroke="#000" stroke-width="0.1">prom</text>
<text x="371.26" y="580.50" font-size="6.7" text-anchor="middle" stroke="#000" stroke-width="0.1">Fcer 1b</text>
<text x="371.26" y="587.50" font-size="6.7" text-anchor="middle" stroke="#000" stroke-width="0.1">UR</text>
<text x="399.62" y="580.50" font-size="6.7" text-anchor="middle" stroke="#000" stroke-width="0.1">Cpa3</text>
<text x="399.62" y="587.50" font-size="6.7" text-anchor="middle" stroke="#000" stroke-width="0.1">prom</text>
<text x="427.98" y="580.50" font-size="6.7" text-anchor="middle" stroke="#000" stroke-width="0.1">Cpa3</text>
<text x="427.98" y="587.50" font-size="6.7" text-anchor="middle" stroke="#000" stroke-width="0.1">5'TR</text>
<text x="456.34" y="580.50" font-size="6.7" text-anchor="middle" stroke="#000" stroke-width="0.1">Hbb-b1</text>
<text x="456.34" y="587.50" font-size="6.7" text-anchor="middle" stroke="#000" stroke-width="0.1">prom</text>
<text x="484.30" y="580.50" font-size="6.6" text-anchor="middle" stroke="#000" stroke-width="0.1">Cd4 5'TR</text>
<text x="335.00" y="534.20" font-size="8.4" text-anchor="middle" font-weight="bold">*</text>
<text x="345.40" y="544.20" font-size="8.4" text-anchor="middle" font-weight="bold">*</text>
<text x="362.70" y="545.80" font-size="8.4" text-anchor="middle" font-weight="bold">*</text>
<text x="373.50" y="548.00" font-size="6.5" text-anchor="middle" stroke="#000" stroke-width="0.1">#</text>
<text x="391.30" y="523.20" font-size="8.4" text-anchor="middle" font-weight="bold">*</text>
<text x="402.50" y="546.30" font-size="6.5" text-anchor="middle" stroke="#000" stroke-width="0.1">#</text>
<text x="419.50" y="544.70" font-size="8.4" text-anchor="middle" font-weight="bold">*</text>
<text x="448.00" y="551.50" font-size="8.4" text-anchor="middle" font-weight="bold">*</text>
<text x="458.80" y="515.70" font-size="8.4" text-anchor="middle" font-weight="bold">*</text>
<rect x="335.00" y="486.00" width="4.00" height="4.00" fill="#8a8a8a" stroke="#222" stroke-width="0.6"/>
<text x="339.60" y="490.79" font-size="7.2" stroke="#000" stroke-width="0.1">G1E: anti-MTA2</text>
<rect x="335.00" y="494.40" width="4.00" height="4.00" fill="#fff" stroke="#222" stroke-width="0.6"/>
<text x="339.60" y="499.19" font-size="7.2" stroke="#000" stroke-width="0.1">G1E: IgG control</text>
<rect x="335.00" y="502.70" width="4.00" height="4.00" fill="#000" stroke="#222" stroke-width="0.6"/>
<text x="339.60" y="507.49" font-size="7.2" stroke="#000" stroke-width="0.1">G1E-ER4 (+est): anti-MTA2</text>
<rect x="335.00" y="510.00" width="4.00" height="4.00" fill="#d4d4d4" stroke="#222" stroke-width="0.6"/>
<text x="339.60" y="514.79" font-size="7.2" stroke="#000" stroke-width="0.1">G1E-ER4 (+est): IgG control</text>
<text x="1.80" y="617.00" font-size="18.6" font-weight="bold">I</text>
<text x="139.40" y="618.70" font-size="9.9" text-anchor="middle" textLength="128.7" lengthAdjust="spacingAndGlyphs" stroke="#000" stroke-width="0.2">anti-RbAp46 ChIP (G1E cells)</text>
<line x1="45.00" y1="639.20" x2="45.00" y2="722.20" stroke="#333" stroke-width="0.8"/>
<line x1="43.00" y1="722.20" x2="204.50" y2="722.20" stroke="#333" stroke-width="0.8"/>
<line x1="43.00" y1="722.20" x2="45.00" y2="722.20" stroke="#333" stroke-width="0.8"/>
<text x="41.80" y="726.10" font-size="7.3" text-anchor="end" fill="#444" stroke="#444" stroke-width="0.1">0</text>
<line x1="43.00" y1="705.70" x2="45.00" y2="705.70" stroke="#333" stroke-width="0.8"/>
<text x="41.80" y="709.60" font-size="7.3" text-anchor="end" fill="#444" stroke="#444" stroke-width="0.1">0.002</text>
<line x1="43.00" y1="689.20" x2="45.00" y2="689.20" stroke="#333" stroke-width="0.8"/>
<text x="41.80" y="693.10" font-size="7.3" text-anchor="end" fill="#444" stroke="#444" stroke-width="0.1">0.004</text>
<line x1="43.00" y1="672.70" x2="45.00" y2="672.70" stroke="#333" stroke-width="0.8"/>
<text x="41.80" y="676.60" font-size="7.3" text-anchor="end" fill="#444" stroke="#444" stroke-width="0.1">0.006</text>
<line x1="43.00" y1="656.20" x2="45.00" y2="656.20" stroke="#333" stroke-width="0.8"/>
<text x="41.80" y="660.10" font-size="7.3" text-anchor="end" fill="#444" stroke="#444" stroke-width="0.1">0.008</text>
<line x1="43.00" y1="639.70" x2="45.00" y2="639.70" stroke="#333" stroke-width="0.8"/>
<text x="41.80" y="643.60" font-size="7.3" text-anchor="end" fill="#444" stroke="#444" stroke-width="0.1">0.01</text>
<line x1="71.66" y1="722.20" x2="71.66" y2="724.20" stroke="#333" stroke-width="0.8"/>
<line x1="97.99" y1="722.20" x2="97.99" y2="724.20" stroke="#333" stroke-width="0.8"/>
<line x1="124.32" y1="722.20" x2="124.32" y2="724.20" stroke="#333" stroke-width="0.8"/>
<line x1="150.65" y1="722.20" x2="150.65" y2="724.20" stroke="#333" stroke-width="0.8"/>
<line x1="176.98" y1="722.20" x2="176.98" y2="724.20" stroke="#333" stroke-width="0.8"/>
<line x1="203.31" y1="722.20" x2="203.31" y2="724.20" stroke="#333" stroke-width="0.8"/>
<text x="21.20" y="680.50" font-size="8.8" text-anchor="middle" font-weight="bold" transform="rotate(-90 21.20 680.50)" textLength="69.7" lengthAdjust="spacingAndGlyphs">Fraction of Input</text>
<rect x="48.50" y="693.33" width="5.00" height="28.88" fill="#858585" stroke="#333" stroke-width="0.5"/>
<line x1="51.00" y1="693.33" x2="51.00" y2="684.25" stroke="#333" stroke-width="0.7"/>
<line x1="49.80" y1="684.25" x2="52.20" y2="684.25" stroke="#333" stroke-width="0.7"/>
<rect x="53.50" y="715.27" width="5.00" height="6.93" fill="#fff" stroke="#333" stroke-width="0.5"/>
<line x1="56.00" y1="715.27" x2="56.00" y2="713.62" stroke="#333" stroke-width="0.7"/>
<line x1="54.80" y1="713.62" x2="57.20" y2="713.62" stroke="#333" stroke-width="0.7"/>
<rect x="58.50" y="699.10" width="5.00" height="23.10" fill="#000" stroke="#333" stroke-width="0.5"/>
<line x1="61.00" y1="699.10" x2="61.00" y2="692.09" stroke="#333" stroke-width="0.7"/>
<line x1="59.80" y1="692.09" x2="62.20" y2="692.09" stroke="#333" stroke-width="0.7"/>
<rect x="63.50" y="715.77" width="5.00" height="6.43" fill="#cdcdcd" stroke="#333" stroke-width="0.5"/>
<line x1="66.00" y1="715.77" x2="66.00" y2="714.53" stroke="#333" stroke-width="0.7"/>
<line x1="64.80" y1="714.53" x2="67.20" y2="714.53" stroke="#333" stroke-width="0.7"/>
<rect x="74.83" y="699.10" width="5.00" height="23.10" fill="#858585" stroke="#333" stroke-width="0.5"/>
<line x1="77.33" y1="699.10" x2="77.33" y2="692.50" stroke="#333" stroke-width="0.7"/>
<line x1="76.13" y1="692.50" x2="78.53" y2="692.50" stroke="#333" stroke-width="0.7"/>
<rect x="79.83" y="716.43" width="5.00" height="5.77" fill="#fff" stroke="#333" stroke-width="0.5"/>
<line x1="82.33" y1="716.43" x2="82.33" y2="714.78" stroke="#333" stroke-width="0.7"/>
<line x1="81.13" y1="714.78" x2="83.53" y2="714.78" stroke="#333" stroke-width="0.7"/>
<rect x="84.83" y="706.77" width="5.00" height="15.43" fill="#000" stroke="#333" stroke-width="0.5"/>
<line x1="87.33" y1="706.77" x2="87.33" y2="697.70" stroke="#333" stroke-width="0.7"/>
<line x1="86.13" y1="697.70" x2="88.53" y2="697.70" stroke="#333" stroke-width="0.7"/>
<rect x="89.83" y="715.60" width="5.00" height="6.60" fill="#cdcdcd" stroke="#333" stroke-width="0.5"/>
<line x1="92.33" y1="715.60" x2="92.33" y2="713.95" stroke="#333" stroke-width="0.7"/>
<line x1="91.13" y1="713.95" x2="93.53" y2="713.95" stroke="#333" stroke-width="0.7"/>
<rect x="101.16" y="677.24" width="5.00" height="44.96" fill="#858585" stroke="#333" stroke-width="0.5"/>
<line x1="103.66" y1="677.24" x2="103.66" y2="664.04" stroke="#333" stroke-width="0.7"/>
<line x1="102.46" y1="664.04" x2="104.86" y2="664.04" stroke="#333" stroke-width="0.7"/>
<rect x="106.16" y="715.60" width="5.00" height="6.60" fill="#fff" stroke="#333" stroke-width="0.5"/>
<line x1="108.66" y1="715.60" x2="108.66" y2="713.95" stroke="#333" stroke-width="0.7"/>
<line x1="107.46" y1="713.95" x2="109.86" y2="713.95" stroke="#333" stroke-width="0.7"/>
<rect x="111.16" y="697.45" width="5.00" height="24.75" fill="#000" stroke="#333" stroke-width="0.5"/>
<line x1="113.66" y1="697.45" x2="113.66" y2="689.20" stroke="#333" stroke-width="0.7"/>
<line x1="112.46" y1="689.20" x2="114.86" y2="689.20" stroke="#333" stroke-width="0.7"/>
<rect x="116.16" y="715.60" width="5.00" height="6.60" fill="#cdcdcd" stroke="#333" stroke-width="0.5"/>
<line x1="118.66" y1="715.60" x2="118.66" y2="713.95" stroke="#333" stroke-width="0.7"/>
<line x1="117.46" y1="713.95" x2="119.86" y2="713.95" stroke="#333" stroke-width="0.7"/>
<rect x="127.49" y="696.62" width="5.00" height="25.58" fill="#858585" stroke="#333" stroke-width="0.5"/>
<line x1="129.99" y1="696.62" x2="129.99" y2="691.68" stroke="#333" stroke-width="0.7"/>
<line x1="128.79" y1="691.68" x2="131.19" y2="691.68" stroke="#333" stroke-width="0.7"/>
<rect x="132.49" y="719.73" width="5.00" height="2.48" fill="#fff" stroke="#333" stroke-width="0.5"/>
<line x1="134.99" y1="719.73" x2="134.99" y2="718.90" stroke="#333" stroke-width="0.7"/>
<line x1="133.79" y1="718.90" x2="136.19" y2="718.90" stroke="#333" stroke-width="0.7"/>
<rect x="137.49" y="710.98" width="5.00" height="11.22" fill="#000" stroke="#333" stroke-width="0.5"/>
<line x1="139.99" y1="710.98" x2="139.99" y2="704.38" stroke="#333" stroke-width="0.7"/>
<line x1="138.79" y1="704.38" x2="141.19" y2="704.38" stroke="#333" stroke-width="0.7"/>
<rect x="142.49" y="717.25" width="5.00" height="4.95" fill="#cdcdcd" stroke="#333" stroke-width="0.5"/>
<line x1="144.99" y1="717.25" x2="144.99" y2="716.43" stroke="#333" stroke-width="0.7"/>
<line x1="143.79" y1="716.43" x2="146.19" y2="716.43" stroke="#333" stroke-width="0.7"/>
<rect x="153.82" y="703.39" width="5.00" height="18.81" fill="#858585" stroke="#333" stroke-width="0.5"/>
<line x1="156.32" y1="703.39" x2="156.32" y2="700.92" stroke="#333" stroke-width="0.7"/>
<line x1="155.12" y1="700.92" x2="157.52" y2="700.92" stroke="#333" stroke-width="0.7"/>
<rect x="158.82" y="720.55" width="5.00" height="1.65" fill="#fff" stroke="#333" stroke-width="0.5"/>
<line x1="161.32" y1="720.55" x2="161.32" y2="718.90" stroke="#333" stroke-width="0.7"/>
<line x1="160.12" y1="718.90" x2="162.52" y2="718.90" stroke="#333" stroke-width="0.7"/>
<rect x="163.82" y="689.20" width="5.00" height="33.00" fill="#000" stroke="#333" stroke-width="0.5"/>
<line x1="166.32" y1="689.20" x2="166.32" y2="675.18" stroke="#333" stroke-width="0.7"/>
<line x1="165.12" y1="675.18" x2="167.52" y2="675.18" stroke="#333" stroke-width="0.7"/>
<rect x="168.82" y="714.78" width="5.00" height="7.42" fill="#cdcdcd" stroke="#333" stroke-width="0.5"/>
<line x1="171.32" y1="714.78" x2="171.32" y2="713.12" stroke="#333" stroke-width="0.7"/>
<line x1="170.12" y1="713.12" x2="172.52" y2="713.12" stroke="#333" stroke-width="0.7"/>
<rect x="180.15" y="714.94" width="5.00" height="7.26" fill="#858585" stroke="#333" stroke-width="0.5"/>
<line x1="182.65" y1="714.94" x2="182.65" y2="711.64" stroke="#333" stroke-width="0.7"/>
<line x1="181.45" y1="711.64" x2="183.85" y2="711.64" stroke="#333" stroke-width="0.7"/>
<rect x="185.15" y="718.90" width="5.00" height="3.30" fill="#fff" stroke="#333" stroke-width="0.5"/>
<line x1="187.65" y1="718.90" x2="187.65" y2="718.08" stroke="#333" stroke-width="0.7"/>
<line x1="186.45" y1="718.08" x2="188.85" y2="718.08" stroke="#333" stroke-width="0.7"/>
<rect x="190.15" y="716.84" width="5.00" height="5.36" fill="#000" stroke="#333" stroke-width="0.5"/>
<line x1="192.65" y1="716.84" x2="192.65" y2="714.36" stroke="#333" stroke-width="0.7"/>
<line x1="191.45" y1="714.36" x2="193.85" y2="714.36" stroke="#333" stroke-width="0.7"/>
<rect x="195.15" y="718.90" width="5.00" height="3.30" fill="#cdcdcd" stroke="#333" stroke-width="0.5"/>
<line x1="197.65" y1="718.90" x2="197.65" y2="718.08" stroke="#333" stroke-width="0.7"/>
<line x1="196.45" y1="718.08" x2="198.85" y2="718.08" stroke="#333" stroke-width="0.7"/>
<text x="58.50" y="731.50" font-size="6.0" text-anchor="middle" stroke="#000" stroke-width="0.1">Fcer1b</text>
<text x="58.50" y="737.80" font-size="6.0" text-anchor="middle" stroke="#000" stroke-width="0.1">prom</text>
<text x="84.83" y="731.50" font-size="6.0" text-anchor="middle" stroke="#000" stroke-width="0.1">Fcer1b</text>
<text x="84.83" y="737.80" font-size="6.0" text-anchor="middle" stroke="#000" stroke-width="0.1">UR</text>
<text x="111.16" y="731.50" font-size="6.0" text-anchor="middle" stroke="#000" stroke-width="0.1">Cpa3</text>
<text x="111.16" y="737.80" font-size="6.0" text-anchor="middle" stroke="#000" stroke-width="0.1">prom</text>
<text x="137.49" y="731.50" font-size="6.0" text-anchor="middle" stroke="#000" stroke-width="0.1">Cpa3</text>
<text x="137.49" y="737.80" font-size="6.0" text-anchor="middle" stroke="#000" stroke-width="0.1">5'TR</text>
<text x="163.82" y="731.50" font-size="6.0" text-anchor="middle" stroke="#000" stroke-width="0.1">Hbb-b1</text>
<text x="163.82" y="737.80" font-size="6.0" text-anchor="middle" stroke="#000" stroke-width="0.1">prom</text>
<text x="190.80" y="731.50" font-size="6.0" text-anchor="middle" stroke="#000" stroke-width="0.1">Cd4 5'TR</text>
<text x="50.80" y="680.70" font-size="8.4" text-anchor="middle" font-weight="bold">*</text>
<text x="60.70" y="687.60" font-size="6.5" text-anchor="middle" stroke="#000" stroke-width="0.1">#</text>
<text x="77.30" y="689.90" font-size="8.4" text-anchor="middle" font-weight="bold">*</text>
<text x="87.00" y="693.10" font-size="6.5" text-anchor="middle" stroke="#000" stroke-width="0.1">#</text>
<text x="103.90" y="660.40" font-size="8.4" text-anchor="middle" font-weight="bold">*</text>
<text x="113.80" y="684.50" font-size="6.5" text-anchor="middle" stroke="#000" stroke-width="0.1">#</text>
<text x="130.30" y="688.20" font-size="8.4" text-anchor="middle" font-weight="bold">*</text>
<text x="156.80" y="698.10" font-size="8.4" text-anchor="middle" font-weight="bold">*</text>
<text x="166.10" y="671.50" font-size="8.4" text-anchor="middle" font-weight="bold">*</text>
<rect x="114.60" y="634.35" width="4.30" height="4.30" fill="#858585" stroke="#222" stroke-width="0.6"/>
<text x="120.30" y="639.35" font-size="7.35" stroke="#000" stroke-width="0.1">G1E: anti-p46</text>
<rect x="114.60" y="642.65" width="4.30" height="4.30" fill="#fff" stroke="#222" stroke-width="0.6"/>
<text x="120.30" y="647.65" font-size="7.35" stroke="#000" stroke-width="0.1">G1E: IgG control</text>
<rect x="114.60" y="651.45" width="4.30" height="4.30" fill="#000" stroke="#222" stroke-width="0.6"/>
<text x="120.30" y="656.45" font-size="7.35" stroke="#000" stroke-width="0.1">G1E-ER4 (+est.): anti-p46</text>
<rect x="114.60" y="659.35" width="4.30" height="4.30" fill="#cdcdcd" stroke="#222" stroke-width="0.6"/>
<text x="120.30" y="664.35" font-size="7.35" stroke="#000" stroke-width="0.1">G1E-ER4 (+est.): IgG control</text>
<text x="278.20" y="616.60" font-size="19.0" font-weight="bold">J</text>
<text x="406.90" y="613.60" font-size="9.9" text-anchor="middle" textLength="133.7" lengthAdjust="spacingAndGlyphs" stroke="#000" stroke-width="0.2">anti-acetyl H3 ChIP (G1E cells)</text>
<line x1="330.80" y1="649.10" x2="330.80" y2="722.10" stroke="#8a8a8a" stroke-width="1.2"/>
<line x1="328.80" y1="722.10" x2="488.00" y2="722.10" stroke="#8a8a8a" stroke-width="1.2"/>
<line x1="328.80" y1="722.10" x2="330.80" y2="722.10" stroke="#8a8a8a" stroke-width="1.2"/>
<text x="326.20" y="726.10" font-size="8.4" text-anchor="end" stroke="#000" stroke-width="0.1">0</text>
<line x1="328.80" y1="703.98" x2="330.80" y2="703.98" stroke="#8a8a8a" stroke-width="1.2"/>
<text x="326.20" y="707.98" font-size="8.4" text-anchor="end" stroke="#000" stroke-width="0.1">0.04</text>
<line x1="328.80" y1="685.85" x2="330.80" y2="685.85" stroke="#8a8a8a" stroke-width="1.2"/>
<text x="326.20" y="689.85" font-size="8.4" text-anchor="end" stroke="#000" stroke-width="0.1">0.08</text>
<line x1="328.80" y1="667.73" x2="330.80" y2="667.73" stroke="#8a8a8a" stroke-width="1.2"/>
<text x="326.20" y="671.73" font-size="8.4" text-anchor="end" stroke="#000" stroke-width="0.1">0.12</text>
<line x1="328.80" y1="649.60" x2="330.80" y2="649.60" stroke="#8a8a8a" stroke-width="1.2"/>
<text x="326.20" y="653.60" font-size="8.4" text-anchor="end" stroke="#000" stroke-width="0.1">0.16</text>
<line x1="357.30" y1="722.10" x2="357.30" y2="724.10" stroke="#8a8a8a" stroke-width="1.2"/>
<line x1="383.58" y1="722.10" x2="383.58" y2="724.10" stroke="#8a8a8a" stroke-width="1.2"/>
<line x1="409.86" y1="722.10" x2="409.86" y2="724.10" stroke="#8a8a8a" stroke-width="1.2"/>
<line x1="436.14" y1="722.10" x2="436.14" y2="724.10" stroke="#8a8a8a" stroke-width="1.2"/>
<line x1="462.42" y1="722.10" x2="462.42" y2="724.10" stroke="#8a8a8a" stroke-width="1.2"/>
<line x1="488.70" y1="722.10" x2="488.70" y2="724.10" stroke="#8a8a8a" stroke-width="1.2"/>
<text x="305.00" y="691.60" font-size="7.9" text-anchor="middle" fill="#3a3a3a" transform="rotate(-90 305.00 691.60)" textLength="56.8" lengthAdjust="spacingAndGlyphs" stroke="#3a3a3a" stroke-width="0.1">Fraction of Input</text>
<rect x="334.40" y="681.23" width="4.90" height="40.87" fill="#fff" stroke="#666" stroke-width="0.5"/>
<line x1="336.85" y1="681.23" x2="336.85" y2="679.64" stroke="#333" stroke-width="0.7"/>
<line x1="335.65" y1="679.64" x2="338.05" y2="679.64" stroke="#333" stroke-width="0.7"/>
<rect x="339.30" y="715.39" width="4.90" height="6.71" fill="#000" stroke="#222" stroke-width="0.5"/>
<rect x="344.20" y="696.27" width="4.90" height="25.83" fill="#858585" stroke="#333" stroke-width="0.5"/>
<line x1="346.65" y1="696.27" x2="346.65" y2="692.87" stroke="#333" stroke-width="0.7"/>
<line x1="345.45" y1="692.87" x2="347.85" y2="692.87" stroke="#333" stroke-width="0.7"/>
<rect x="349.10" y="721.56" width="4.90" height="0.54" fill="#e0e0e0" stroke="#777" stroke-width="0.5"/>
<rect x="360.68" y="716.48" width="4.90" height="5.62" fill="#fff" stroke="#666" stroke-width="0.5"/>
<line x1="363.13" y1="716.48" x2="363.13" y2="715.12" stroke="#333" stroke-width="0.7"/>
<line x1="361.93" y1="715.12" x2="364.33" y2="715.12" stroke="#333" stroke-width="0.7"/>
<rect x="365.58" y="718.48" width="4.90" height="3.62" fill="#000" stroke="#222" stroke-width="0.5"/>
<rect x="370.48" y="714.58" width="4.90" height="7.52" fill="#858585" stroke="#333" stroke-width="0.5"/>
<line x1="372.93" y1="714.58" x2="372.93" y2="712.99" stroke="#333" stroke-width="0.7"/>
<line x1="371.73" y1="712.99" x2="374.13" y2="712.99" stroke="#333" stroke-width="0.7"/>
<rect x="375.38" y="721.65" width="4.90" height="0.45" fill="#e0e0e0" stroke="#777" stroke-width="0.5"/>
<rect x="386.96" y="682.23" width="4.90" height="39.88" fill="#fff" stroke="#666" stroke-width="0.5"/>
<line x1="389.41" y1="682.23" x2="389.41" y2="675.20" stroke="#333" stroke-width="0.7"/>
<line x1="388.21" y1="675.20" x2="390.61" y2="675.20" stroke="#333" stroke-width="0.7"/>
<rect x="391.86" y="715.26" width="4.90" height="6.84" fill="#000" stroke="#222" stroke-width="0.5"/>
<rect x="396.76" y="708.87" width="4.90" height="13.23" fill="#858585" stroke="#333" stroke-width="0.5"/>
<line x1="399.21" y1="708.87" x2="399.21" y2="707.74" stroke="#333" stroke-width="0.7"/>
<line x1="398.01" y1="707.74" x2="400.41" y2="707.74" stroke="#333" stroke-width="0.7"/>
<rect x="401.66" y="721.65" width="4.90" height="0.45" fill="#e0e0e0" stroke="#777" stroke-width="0.5"/>
<rect x="413.24" y="690.38" width="4.90" height="31.72" fill="#fff" stroke="#666" stroke-width="0.5"/>
<line x1="415.69" y1="690.38" x2="415.69" y2="679.05" stroke="#333" stroke-width="0.7"/>
<line x1="414.49" y1="679.05" x2="416.89" y2="679.05" stroke="#333" stroke-width="0.7"/>
<rect x="418.14" y="718.79" width="4.90" height="3.31" fill="#000" stroke="#222" stroke-width="0.5"/>
<rect x="423.04" y="713.49" width="4.90" height="8.61" fill="#858585" stroke="#333" stroke-width="0.5"/>
<line x1="425.49" y1="713.49" x2="425.49" y2="711.90" stroke="#333" stroke-width="0.7"/>
<line x1="424.29" y1="711.90" x2="426.69" y2="711.90" stroke="#333" stroke-width="0.7"/>
<rect x="427.94" y="721.74" width="4.90" height="0.36" fill="#e0e0e0" stroke="#777" stroke-width="0.5"/>
<rect x="439.52" y="714.17" width="4.90" height="7.93" fill="#fff" stroke="#666" stroke-width="0.5"/>
<line x1="441.97" y1="714.17" x2="441.97" y2="712.81" stroke="#333" stroke-width="0.7"/>
<line x1="440.77" y1="712.81" x2="443.17" y2="712.81" stroke="#333" stroke-width="0.7"/>
<rect x="444.42" y="678.74" width="4.90" height="43.36" fill="#000" stroke="#222" stroke-width="0.5"/>
<rect x="449.32" y="693.33" width="4.90" height="28.77" fill="#858585" stroke="#333" stroke-width="0.5"/>
<line x1="451.77" y1="693.33" x2="451.77" y2="690.61" stroke="#333" stroke-width="0.7"/>
<line x1="450.57" y1="690.61" x2="452.97" y2="690.61" stroke="#333" stroke-width="0.7"/>
<rect x="454.22" y="721.65" width="4.90" height="0.45" fill="#e0e0e0" stroke="#777" stroke-width="0.5"/>
<rect x="465.80" y="716.48" width="4.90" height="5.62" fill="#fff" stroke="#666" stroke-width="0.5"/>
<line x1="468.25" y1="716.48" x2="468.25" y2="715.58" stroke="#333" stroke-width="0.7"/>
<line x1="467.05" y1="715.58" x2="469.45" y2="715.58" stroke="#333" stroke-width="0.7"/>
<rect x="470.70" y="718.11" width="4.90" height="3.99" fill="#000" stroke="#222" stroke-width="0.5"/>
<rect x="475.60" y="718.79" width="4.90" height="3.31" fill="#858585" stroke="#333" stroke-width="0.5"/>
<line x1="478.05" y1="718.79" x2="478.05" y2="718.34" stroke="#333" stroke-width="0.7"/>
<line x1="476.85" y1="718.34" x2="479.25" y2="718.34" stroke="#333" stroke-width="0.7"/>
<rect x="480.50" y="721.74" width="4.90" height="0.36" fill="#e0e0e0" stroke="#777" stroke-width="0.5"/>
<text x="344.20" y="731.20" font-size="5.6" text-anchor="middle" stroke="#000" stroke-width="0.1">Fcer1b</text>
<text x="344.20" y="736.80" font-size="5.6" text-anchor="middle" stroke="#000" stroke-width="0.1">prom</text>
<text x="370.48" y="731.20" font-size="5.6" text-anchor="middle" stroke="#000" stroke-width="0.1">Fcer1b</text>
<text x="370.48" y="736.80" font-size="5.6" text-anchor="middle" stroke="#000" stroke-width="0.1">UR</text>
<text x="396.76" y="731.20" font-size="5.6" text-anchor="middle" stroke="#000" stroke-width="0.1">Cpa3</text>
<text x="396.76" y="736.80" font-size="5.6" text-anchor="middle" stroke="#000" stroke-width="0.1">prom</text>
<text x="423.04" y="731.20" font-size="5.6" text-anchor="middle" stroke="#000" stroke-width="0.1">Cpa3</text>
<text x="423.04" y="736.80" font-size="5.6" text-anchor="middle" stroke="#000" stroke-width="0.1">5'TR</text>
<text x="449.32" y="731.20" font-size="5.6" text-anchor="middle" stroke="#000" stroke-width="0.1">Hbb-b1</text>
<text x="449.32" y="736.80" font-size="5.6" text-anchor="middle" stroke="#000" stroke-width="0.1">prom</text>
<text x="477.00" y="731.20" font-size="5.6" text-anchor="middle" stroke="#000" stroke-width="0.1">Cd4 5'TR</text>
<text x="343.50" y="659.30" font-size="6.5" text-anchor="middle" stroke="#000" stroke-width="0.1">#</text>
<path d="M335.80,664.00 L335.80,662.00 Q335.80,660.80 337.00,660.80 L349.20,660.80 Q350.40,660.80 350.40,662.00 L350.40,664.00" stroke="#222" stroke-width="1.1" fill="none"/>
<text x="339.60" y="672.02" font-size="8.96" text-anchor="middle" font-weight="bold">*</text>
<text x="347.00" y="672.02" font-size="8.96" text-anchor="middle" font-weight="bold">*</text>
<path d="M336.60,675.30 L336.60,672.80 Q336.60,670.80 339.30,670.80 Q342.00,670.80 342.00,672.80 L342.00,675.30" stroke="#222" stroke-width="0.9" fill="none"/>
<path d="M344.20,675.30 L344.20,672.80 Q344.20,670.80 346.90,670.80 Q349.60,670.80 349.60,672.80 L349.60,675.30" stroke="#222" stroke-width="0.9" fill="none"/>
<text x="396.20" y="658.30" font-size="6.5" text-anchor="middle" stroke="#000" stroke-width="0.1">#</text>
<path d="M389.20,663.00 L389.20,661.60 Q389.20,660.40 390.40,660.40 L401.90,660.40 Q403.10,660.40 403.10,661.60 L403.10,663.00" stroke="#222" stroke-width="1.1" fill="none"/>
<text x="391.50" y="670.52" font-size="8.96" text-anchor="middle" font-weight="bold">*</text>
<text x="399.60" y="670.52" font-size="8.96" text-anchor="middle" font-weight="bold">*</text>
<path d="M389.40,673.00 L389.40,671.60 Q389.40,669.60 392.10,669.60 Q394.80,669.60 394.80,671.60 L394.80,673.00" stroke="#222" stroke-width="0.9" fill="none"/>
<path d="M397.40,673.00 L397.40,671.60 Q397.40,669.60 400.00,669.60 Q402.60,669.60 402.60,671.60 L402.60,673.00" stroke="#222" stroke-width="0.9" fill="none"/>
<text x="422.00" y="702.00" font-size="6.5" text-anchor="middle" stroke="#000" stroke-width="0.1">#</text>
<path d="M421.10,708.90 L421.10,707.10 Q421.10,705.90 422.30,705.90 L426.10,705.90 Q427.30,705.90 427.30,707.10 L427.30,708.90" stroke="#222" stroke-width="1.1" fill="none"/>
<path d="M441.20,669.90 L441.20,668.50 Q441.20,667.30 442.40,667.30 L452.60,667.30 Q453.80,667.30 453.80,668.50 L453.80,669.90" stroke="#222" stroke-width="1.1" fill="none"/>
<text x="448.10" y="667.02" font-size="8.96" text-anchor="middle" font-weight="bold">*</text>
<path d="M441.20,676.80 L441.20,675.40 Q441.20,674.20 442.40,674.20 L446.20,674.20 Q447.40,674.20 447.40,675.40 L447.40,676.80" stroke="#222" stroke-width="1.1" fill="none"/>
<text x="444.20" y="674.02" font-size="8.96" text-anchor="middle" font-weight="bold">*</text>
<rect x="424.60" y="631.95" width="3.50" height="3.50" fill="#fff" stroke="#222" stroke-width="0.6"/>
<text x="430.80" y="636.49" font-size="7.2" stroke="#000" stroke-width="0.1">G1E: anti-acH3</text>
<rect x="424.60" y="638.85" width="3.50" height="3.50" fill="#000" stroke="#222" stroke-width="0.6"/>
<text x="430.80" y="643.39" font-size="7.2" stroke="#000" stroke-width="0.1">G1E-ER4 (+est.): anti-acH3</text>
<rect x="424.60" y="645.05" width="3.50" height="3.50" fill="#858585" stroke="#222" stroke-width="0.6"/>
<text x="430.80" y="649.59" font-size="7.2" stroke="#000" stroke-width="0.1">V205M (+est.): anti-acH3</text>
<rect x="424.60" y="651.95" width="3.50" height="3.50" fill="#e0e0e0" stroke="#222" stroke-width="0.6"/>
<text x="430.80" y="656.49" font-size="7.2" stroke="#000" stroke-width="0.1">IgG control</text>
</svg>
</body></html>
